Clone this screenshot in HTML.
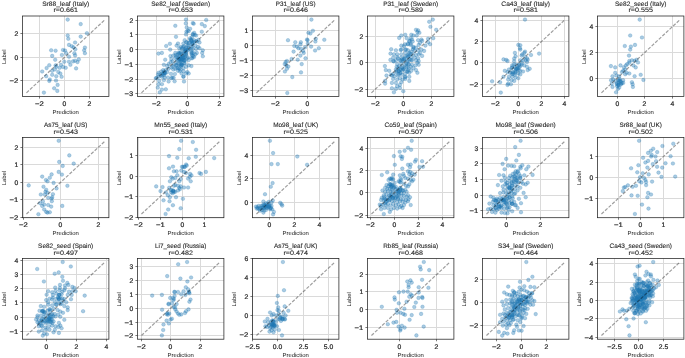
<!DOCTYPE html>
<html><head><meta charset="utf-8"><style>
html,body{margin:0;padding:0;background:#fff;}
svg{display:block;will-change:transform;}
text{font-family:"Liberation Sans",sans-serif;fill:#262626;text-rendering:geometricPrecision;stroke:#262626;stroke-width:0.1;}
.k{stroke-width:0.22;}
.l{stroke-width:0.02;}
.gr{stroke:#dadada;stroke-width:1;}
.sp{fill:none;stroke:#222;stroke-width:0.75;}
.tk{stroke:#222;stroke-width:0.6;}
.dg{stroke:#000;stroke-opacity:0.38;stroke-width:1.2;stroke-dasharray:3.4 1.5;}
circle{fill:#1f77b4;fill-opacity:0.38;stroke:#1f77b4;stroke-opacity:0.38;stroke-width:0.59;}
</style></head><body>
<svg width="685" height="358" viewBox="0 0 685 358">
<rect width="685" height="358" fill="#fff"/>
<line class="gr" x1="39.50" y1="16.00" x2="39.50" y2="96.50"/>
<line class="gr" x1="64.50" y1="16.00" x2="64.50" y2="96.50"/>
<line class="gr" x1="89.50" y1="16.00" x2="89.50" y2="96.50"/>
<line class="gr" x1="22.50" y1="80.50" x2="108.90" y2="80.50"/>
<line class="gr" x1="22.50" y1="57.50" x2="108.90" y2="57.50"/>
<line class="gr" x1="22.50" y1="33.50" x2="108.90" y2="33.50"/>
<circle cx="67.7" cy="19.6" r="1.8"/>
<circle cx="80.7" cy="24.1" r="1.8"/>
<circle cx="86.9" cy="33.2" r="1.8"/>
<circle cx="67.7" cy="35.5" r="1.8"/>
<circle cx="80.7" cy="36.6" r="1.8"/>
<circle cx="68.3" cy="38.8" r="1.8"/>
<circle cx="75.1" cy="42.5" r="1.8"/>
<circle cx="69.0" cy="44.9" r="1.8"/>
<circle cx="71.7" cy="46.2" r="1.8"/>
<circle cx="73.5" cy="47.3" r="1.8"/>
<circle cx="75.3" cy="49.2" r="1.8"/>
<circle cx="84.9" cy="47.6" r="1.8"/>
<circle cx="84.2" cy="50.3" r="1.8"/>
<circle cx="84.9" cy="53.2" r="1.8"/>
<circle cx="51.2" cy="50.3" r="1.8"/>
<circle cx="55.6" cy="50.7" r="1.8"/>
<circle cx="63.0" cy="50.0" r="1.8"/>
<circle cx="65.0" cy="50.5" r="1.8"/>
<circle cx="66.3" cy="53.2" r="1.8"/>
<circle cx="74.4" cy="53.2" r="1.8"/>
<circle cx="61.9" cy="55.0" r="1.8"/>
<circle cx="52.2" cy="55.9" r="1.8"/>
<circle cx="69.0" cy="56.7" r="1.8"/>
<circle cx="75.1" cy="55.4" r="1.8"/>
<circle cx="55.2" cy="59.8" r="1.8"/>
<circle cx="64.3" cy="61.7" r="1.8"/>
<circle cx="69.0" cy="61.7" r="1.8"/>
<circle cx="73.0" cy="61.4" r="1.8"/>
<circle cx="75.1" cy="60.7" r="1.8"/>
<circle cx="78.8" cy="59.4" r="1.8"/>
<circle cx="77.5" cy="62.1" r="1.8"/>
<circle cx="70.4" cy="64.8" r="1.8"/>
<circle cx="49.3" cy="65.2" r="1.8"/>
<circle cx="55.6" cy="65.4" r="1.8"/>
<circle cx="61.0" cy="64.8" r="1.8"/>
<circle cx="46.6" cy="68.1" r="1.8"/>
<circle cx="56.3" cy="66.8" r="1.8"/>
<circle cx="59.6" cy="67.8" r="1.8"/>
<circle cx="63.0" cy="67.0" r="1.8"/>
<circle cx="65.7" cy="67.8" r="1.8"/>
<circle cx="76.1" cy="68.4" r="1.8"/>
<circle cx="42.2" cy="71.5" r="1.8"/>
<circle cx="52.2" cy="70.8" r="1.8"/>
<circle cx="54.9" cy="69.5" r="1.8"/>
<circle cx="58.3" cy="72.1" r="1.8"/>
<circle cx="60.3" cy="73.5" r="1.8"/>
<circle cx="52.2" cy="74.8" r="1.8"/>
<circle cx="46.2" cy="76.2" r="1.8"/>
<circle cx="56.3" cy="76.2" r="1.8"/>
<circle cx="61.6" cy="76.8" r="1.8"/>
<circle cx="49.8" cy="79.5" r="1.8"/>
<circle cx="49.3" cy="80.9" r="1.8"/>
<circle cx="56.0" cy="80.5" r="1.8"/>
<circle cx="57.6" cy="84.9" r="1.8"/>
<circle cx="54.2" cy="88.3" r="1.8"/>
<circle cx="57.3" cy="90.9" r="1.8"/>
<circle cx="43.9" cy="92.6" r="1.8"/>
<line class="dg" x1="26.43" y1="92.84" x2="104.97" y2="19.66"/>
<rect class="sp" x="22.50" y="16.00" width="86.40" height="80.50"/>
<line class="tk" x1="39.50" y1="96.50" x2="39.50" y2="98.58"/>
<text x="39.50" y="106.00" font-size="6.70" text-anchor="middle" textLength="8.74" lengthAdjust="spacingAndGlyphs" class="k">−2</text>
<line class="tk" x1="64.50" y1="96.50" x2="64.50" y2="98.58"/>
<text x="64.50" y="106.00" font-size="6.70" text-anchor="middle" textLength="3.77" lengthAdjust="spacingAndGlyphs" class="k">0</text>
<line class="tk" x1="89.50" y1="96.50" x2="89.50" y2="98.58"/>
<text x="89.50" y="106.00" font-size="6.70" text-anchor="middle" textLength="3.77" lengthAdjust="spacingAndGlyphs" class="k">2</text>
<line class="tk" x1="20.42" y1="80.50" x2="22.50" y2="80.50"/>
<text x="18.34" y="83.10" font-size="6.70" text-anchor="end" textLength="8.74" lengthAdjust="spacingAndGlyphs" class="k">−2</text>
<line class="tk" x1="20.42" y1="57.50" x2="22.50" y2="57.50"/>
<text x="18.34" y="60.10" font-size="6.70" text-anchor="end" textLength="3.77" lengthAdjust="spacingAndGlyphs" class="k">0</text>
<line class="tk" x1="20.42" y1="33.50" x2="22.50" y2="33.50"/>
<text x="18.34" y="36.10" font-size="6.70" text-anchor="end" textLength="3.77" lengthAdjust="spacingAndGlyphs" class="k">2</text>
<text x="65.70" y="6.25" font-size="6.35" text-anchor="middle" textLength="47.11" lengthAdjust="spacingAndGlyphs">Sr88_leaf (Italy)</text>
<text x="65.70" y="12.45" font-size="6.35" text-anchor="middle" textLength="24.39" lengthAdjust="spacingAndGlyphs">r=0.661</text>
<text x="65.70" y="113.90" font-size="5.71" text-anchor="middle" textLength="26.50" lengthAdjust="spacingAndGlyphs" class="l">Prediction</text>
<text x="0.00" y="0.00" font-size="5.71" text-anchor="middle" textLength="14.41" lengthAdjust="spacingAndGlyphs" class="l" transform="translate(5.84 56.75) rotate(-90)">Label</text>
<line class="gr" x1="156.50" y1="16.00" x2="156.50" y2="96.50"/>
<line class="gr" x1="187.50" y1="16.00" x2="187.50" y2="96.50"/>
<line class="gr" x1="219.50" y1="16.00" x2="219.50" y2="96.50"/>
<line class="gr" x1="137.50" y1="93.50" x2="223.90" y2="93.50"/>
<line class="gr" x1="137.50" y1="79.50" x2="223.90" y2="79.50"/>
<line class="gr" x1="137.50" y1="64.50" x2="223.90" y2="64.50"/>
<line class="gr" x1="137.50" y1="49.50" x2="223.90" y2="49.50"/>
<line class="gr" x1="137.50" y1="34.50" x2="223.90" y2="34.50"/>
<line class="gr" x1="137.50" y1="20.50" x2="223.90" y2="20.50"/>
<circle cx="186.0" cy="19.6" r="1.8"/>
<circle cx="206.2" cy="20.0" r="1.8"/>
<circle cx="185.8" cy="23.4" r="1.8"/>
<circle cx="192.8" cy="23.1" r="1.8"/>
<circle cx="193.7" cy="23.7" r="1.8"/>
<circle cx="201.8" cy="24.1" r="1.8"/>
<circle cx="204.8" cy="26.1" r="1.8"/>
<circle cx="175.3" cy="25.8" r="1.8"/>
<circle cx="186.7" cy="27.4" r="1.8"/>
<circle cx="190.1" cy="28.8" r="1.8"/>
<circle cx="187.6" cy="30.8" r="1.8"/>
<circle cx="186.4" cy="31.7" r="1.8"/>
<circle cx="188.7" cy="31.2" r="1.8"/>
<circle cx="201.8" cy="31.7" r="1.8"/>
<circle cx="194.1" cy="32.8" r="1.8"/>
<circle cx="192.8" cy="34.1" r="1.8"/>
<circle cx="194.8" cy="34.8" r="1.8"/>
<circle cx="196.1" cy="35.5" r="1.8"/>
<circle cx="186.0" cy="34.4" r="1.8"/>
<circle cx="176.0" cy="36.8" r="1.8"/>
<circle cx="190.1" cy="38.2" r="1.8"/>
<circle cx="191.4" cy="39.5" r="1.8"/>
<circle cx="194.1" cy="40.2" r="1.8"/>
<circle cx="184.7" cy="40.2" r="1.8"/>
<circle cx="186.0" cy="42.2" r="1.8"/>
<circle cx="183.4" cy="43.5" r="1.8"/>
<circle cx="188.7" cy="42.9" r="1.8"/>
<circle cx="192.8" cy="42.9" r="1.8"/>
<circle cx="196.8" cy="41.5" r="1.8"/>
<circle cx="199.5" cy="42.5" r="1.8"/>
<circle cx="178.0" cy="43.5" r="1.8"/>
<circle cx="169.9" cy="43.8" r="1.8"/>
<circle cx="166.2" cy="46.0" r="1.8"/>
<circle cx="176.6" cy="45.6" r="1.8"/>
<circle cx="180.7" cy="46.9" r="1.8"/>
<circle cx="184.0" cy="46.2" r="1.8"/>
<circle cx="187.4" cy="45.6" r="1.8"/>
<circle cx="191.4" cy="46.2" r="1.8"/>
<circle cx="195.4" cy="45.6" r="1.8"/>
<circle cx="198.1" cy="46.9" r="1.8"/>
<circle cx="170.2" cy="49.6" r="1.8"/>
<circle cx="179.3" cy="48.2" r="1.8"/>
<circle cx="182.0" cy="49.2" r="1.8"/>
<circle cx="185.4" cy="48.7" r="1.8"/>
<circle cx="188.7" cy="48.2" r="1.8"/>
<circle cx="192.8" cy="49.2" r="1.8"/>
<circle cx="196.1" cy="48.9" r="1.8"/>
<circle cx="199.5" cy="48.2" r="1.8"/>
<circle cx="202.8" cy="50.3" r="1.8"/>
<circle cx="158.5" cy="53.6" r="1.8"/>
<circle cx="161.9" cy="52.9" r="1.8"/>
<circle cx="175.3" cy="52.9" r="1.8"/>
<circle cx="180.7" cy="52.3" r="1.8"/>
<circle cx="184.7" cy="51.6" r="1.8"/>
<circle cx="191.4" cy="52.3" r="1.8"/>
<circle cx="193.4" cy="52.9" r="1.8"/>
<circle cx="196.8" cy="52.9" r="1.8"/>
<circle cx="202.2" cy="52.9" r="1.8"/>
<circle cx="173.3" cy="55.6" r="1.8"/>
<circle cx="177.3" cy="55.0" r="1.8"/>
<circle cx="182.0" cy="54.3" r="1.8"/>
<circle cx="186.0" cy="54.3" r="1.8"/>
<circle cx="192.1" cy="55.6" r="1.8"/>
<circle cx="195.4" cy="54.3" r="1.8"/>
<circle cx="202.8" cy="56.3" r="1.8"/>
<circle cx="165.2" cy="59.7" r="1.8"/>
<circle cx="171.3" cy="59.0" r="1.8"/>
<circle cx="175.3" cy="58.3" r="1.8"/>
<circle cx="179.3" cy="58.3" r="1.8"/>
<circle cx="183.4" cy="57.6" r="1.8"/>
<circle cx="187.4" cy="58.3" r="1.8"/>
<circle cx="191.4" cy="58.3" r="1.8"/>
<circle cx="194.1" cy="57.0" r="1.8"/>
<circle cx="179.3" cy="53.3" r="1.8"/>
<circle cx="191.4" cy="54.0" r="1.8"/>
<circle cx="188.7" cy="60.1" r="1.8"/>
<circle cx="183.4" cy="60.1" r="1.8"/>
<circle cx="172.6" cy="61.4" r="1.8"/>
<circle cx="170.6" cy="62.1" r="1.8"/>
<circle cx="168.6" cy="64.1" r="1.8"/>
<circle cx="163.9" cy="64.8" r="1.8"/>
<circle cx="167.2" cy="66.1" r="1.8"/>
<circle cx="173.9" cy="64.8" r="1.8"/>
<circle cx="176.6" cy="65.4" r="1.8"/>
<circle cx="179.3" cy="64.1" r="1.8"/>
<circle cx="182.0" cy="64.8" r="1.8"/>
<circle cx="184.7" cy="63.4" r="1.8"/>
<circle cx="188.7" cy="65.4" r="1.8"/>
<circle cx="191.4" cy="66.1" r="1.8"/>
<circle cx="186.0" cy="66.8" r="1.8"/>
<circle cx="183.4" cy="68.1" r="1.8"/>
<circle cx="180.7" cy="69.5" r="1.8"/>
<circle cx="178.0" cy="70.8" r="1.8"/>
<circle cx="175.3" cy="68.8" r="1.8"/>
<circle cx="173.3" cy="69.5" r="1.8"/>
<circle cx="171.3" cy="67.4" r="1.8"/>
<circle cx="168.6" cy="68.8" r="1.8"/>
<circle cx="165.9" cy="70.1" r="1.8"/>
<circle cx="163.2" cy="70.1" r="1.8"/>
<circle cx="161.2" cy="71.5" r="1.8"/>
<circle cx="158.5" cy="72.8" r="1.8"/>
<circle cx="161.9" cy="73.5" r="1.8"/>
<circle cx="165.2" cy="73.5" r="1.8"/>
<circle cx="167.2" cy="72.1" r="1.8"/>
<circle cx="187.4" cy="72.1" r="1.8"/>
<circle cx="188.7" cy="73.5" r="1.8"/>
<circle cx="186.0" cy="73.5" r="1.8"/>
<circle cx="183.4" cy="76.8" r="1.8"/>
<circle cx="184.0" cy="81.5" r="1.8"/>
<circle cx="158.5" cy="76.8" r="1.8"/>
<circle cx="161.9" cy="76.8" r="1.8"/>
<circle cx="164.5" cy="77.5" r="1.8"/>
<circle cx="167.9" cy="77.5" r="1.8"/>
<circle cx="171.3" cy="78.2" r="1.8"/>
<circle cx="155.8" cy="78.2" r="1.8"/>
<circle cx="159.2" cy="80.9" r="1.8"/>
<circle cx="163.9" cy="80.2" r="1.8"/>
<circle cx="168.6" cy="81.5" r="1.8"/>
<circle cx="174.6" cy="81.3" r="1.8"/>
<circle cx="158.5" cy="84.2" r="1.8"/>
<circle cx="161.9" cy="84.2" r="1.8"/>
<circle cx="157.8" cy="87.6" r="1.8"/>
<circle cx="161.9" cy="89.6" r="1.8"/>
<circle cx="159.8" cy="92.3" r="1.8"/>
<circle cx="192.9" cy="34.7" r="1.8"/>
<circle cx="186.4" cy="53.7" r="1.8"/>
<circle cx="183.2" cy="46.9" r="1.8"/>
<circle cx="179.4" cy="59.4" r="1.8"/>
<circle cx="175.9" cy="65.1" r="1.8"/>
<circle cx="180.6" cy="61.1" r="1.8"/>
<circle cx="181.1" cy="65.9" r="1.8"/>
<circle cx="170.4" cy="56.1" r="1.8"/>
<circle cx="188.4" cy="45.6" r="1.8"/>
<circle cx="181.4" cy="64.2" r="1.8"/>
<circle cx="185.3" cy="55.0" r="1.8"/>
<circle cx="180.6" cy="65.0" r="1.8"/>
<circle cx="181.6" cy="73.5" r="1.8"/>
<circle cx="177.2" cy="68.0" r="1.8"/>
<circle cx="184.8" cy="57.2" r="1.8"/>
<circle cx="184.5" cy="60.1" r="1.8"/>
<circle cx="165.8" cy="89.3" r="1.8"/>
<circle cx="180.7" cy="58.6" r="1.8"/>
<circle cx="186.9" cy="42.4" r="1.8"/>
<circle cx="175.5" cy="55.0" r="1.8"/>
<circle cx="178.6" cy="52.5" r="1.8"/>
<circle cx="183.5" cy="76.5" r="1.8"/>
<circle cx="186.3" cy="51.6" r="1.8"/>
<circle cx="178.7" cy="53.7" r="1.8"/>
<circle cx="179.3" cy="68.3" r="1.8"/>
<circle cx="173.6" cy="77.7" r="1.8"/>
<circle cx="174.9" cy="74.0" r="1.8"/>
<circle cx="183.6" cy="71.3" r="1.8"/>
<circle cx="186.0" cy="47.7" r="1.8"/>
<circle cx="171.0" cy="73.8" r="1.8"/>
<circle cx="179.2" cy="56.6" r="1.8"/>
<circle cx="187.8" cy="57.2" r="1.8"/>
<circle cx="181.1" cy="57.6" r="1.8"/>
<circle cx="185.7" cy="50.3" r="1.8"/>
<circle cx="185.9" cy="49.6" r="1.8"/>
<circle cx="189.8" cy="42.6" r="1.8"/>
<circle cx="178.1" cy="67.8" r="1.8"/>
<circle cx="176.6" cy="62.0" r="1.8"/>
<circle cx="184.9" cy="60.5" r="1.8"/>
<circle cx="172.3" cy="77.6" r="1.8"/>
<circle cx="181.7" cy="59.0" r="1.8"/>
<circle cx="182.3" cy="48.1" r="1.8"/>
<circle cx="185.4" cy="51.4" r="1.8"/>
<circle cx="182.7" cy="56.5" r="1.8"/>
<circle cx="179.6" cy="59.9" r="1.8"/>
<circle cx="192.4" cy="58.0" r="1.8"/>
<circle cx="191.2" cy="49.8" r="1.8"/>
<circle cx="184.1" cy="51.8" r="1.8"/>
<circle cx="193.3" cy="56.1" r="1.8"/>
<circle cx="179.8" cy="71.0" r="1.8"/>
<circle cx="189.1" cy="49.0" r="1.8"/>
<circle cx="191.9" cy="53.1" r="1.8"/>
<circle cx="198.6" cy="39.8" r="1.8"/>
<circle cx="192.5" cy="43.1" r="1.8"/>
<circle cx="188.0" cy="50.3" r="1.8"/>
<circle cx="164.2" cy="73.5" r="1.8"/>
<circle cx="172.8" cy="66.5" r="1.8"/>
<circle cx="164.1" cy="75.1" r="1.8"/>
<circle cx="160.7" cy="75.4" r="1.8"/>
<circle cx="163.8" cy="73.0" r="1.8"/>
<circle cx="164.9" cy="72.6" r="1.8"/>
<circle cx="156.5" cy="78.0" r="1.8"/>
<circle cx="158.1" cy="74.6" r="1.8"/>
<circle cx="162.4" cy="74.8" r="1.8"/>
<circle cx="164.3" cy="71.4" r="1.8"/>
<circle cx="192.2" cy="37.0" r="1.8"/>
<circle cx="191.8" cy="41.0" r="1.8"/>
<circle cx="192.5" cy="46.8" r="1.8"/>
<circle cx="191.3" cy="40.6" r="1.8"/>
<circle cx="196.2" cy="41.0" r="1.8"/>
<circle cx="193.9" cy="42.1" r="1.8"/>
<circle cx="190.3" cy="39.6" r="1.8"/>
<circle cx="192.0" cy="43.8" r="1.8"/>
<circle cx="177.6" cy="59.9" r="1.8"/>
<circle cx="178.2" cy="58.3" r="1.8"/>
<circle cx="180.5" cy="53.3" r="1.8"/>
<circle cx="180.8" cy="61.1" r="1.8"/>
<circle cx="183.8" cy="63.3" r="1.8"/>
<circle cx="181.7" cy="59.8" r="1.8"/>
<circle cx="176.4" cy="56.9" r="1.8"/>
<circle cx="181.4" cy="60.4" r="1.8"/>
<circle cx="184.3" cy="60.7" r="1.8"/>
<circle cx="181.7" cy="65.3" r="1.8"/>
<circle cx="177.9" cy="63.6" r="1.8"/>
<circle cx="184.4" cy="57.1" r="1.8"/>
<circle cx="183.2" cy="57.8" r="1.8"/>
<circle cx="184.6" cy="53.7" r="1.8"/>
<circle cx="181.8" cy="55.7" r="1.8"/>
<line class="dg" x1="141.43" y1="92.84" x2="219.97" y2="19.66"/>
<rect class="sp" x="137.50" y="16.00" width="86.40" height="80.50"/>
<line class="tk" x1="156.50" y1="96.50" x2="156.50" y2="98.58"/>
<text x="156.50" y="106.00" font-size="6.70" text-anchor="middle" textLength="8.74" lengthAdjust="spacingAndGlyphs" class="k">−2</text>
<line class="tk" x1="187.50" y1="96.50" x2="187.50" y2="98.58"/>
<text x="187.50" y="106.00" font-size="6.70" text-anchor="middle" textLength="3.77" lengthAdjust="spacingAndGlyphs" class="k">0</text>
<line class="tk" x1="219.50" y1="96.50" x2="219.50" y2="98.58"/>
<text x="219.50" y="106.00" font-size="6.70" text-anchor="middle" textLength="3.77" lengthAdjust="spacingAndGlyphs" class="k">2</text>
<line class="tk" x1="135.42" y1="93.50" x2="137.50" y2="93.50"/>
<text x="133.34" y="96.10" font-size="6.70" text-anchor="end" textLength="8.74" lengthAdjust="spacingAndGlyphs" class="k">−3</text>
<line class="tk" x1="135.42" y1="79.50" x2="137.50" y2="79.50"/>
<text x="133.34" y="82.10" font-size="6.70" text-anchor="end" textLength="8.74" lengthAdjust="spacingAndGlyphs" class="k">−2</text>
<line class="tk" x1="135.42" y1="64.50" x2="137.50" y2="64.50"/>
<text x="133.34" y="67.10" font-size="6.70" text-anchor="end" textLength="8.74" lengthAdjust="spacingAndGlyphs" class="k">−1</text>
<line class="tk" x1="135.42" y1="49.50" x2="137.50" y2="49.50"/>
<text x="133.34" y="52.10" font-size="6.70" text-anchor="end" textLength="3.77" lengthAdjust="spacingAndGlyphs" class="k">0</text>
<line class="tk" x1="135.42" y1="34.50" x2="137.50" y2="34.50"/>
<text x="133.34" y="37.10" font-size="6.70" text-anchor="end" textLength="3.77" lengthAdjust="spacingAndGlyphs" class="k">1</text>
<line class="tk" x1="135.42" y1="20.50" x2="137.50" y2="20.50"/>
<text x="133.34" y="23.10" font-size="6.70" text-anchor="end" textLength="3.77" lengthAdjust="spacingAndGlyphs" class="k">2</text>
<text x="180.70" y="6.25" font-size="6.35" text-anchor="middle" textLength="58.88" lengthAdjust="spacingAndGlyphs">Se82_leaf (Sweden)</text>
<text x="180.70" y="12.45" font-size="6.35" text-anchor="middle" textLength="24.39" lengthAdjust="spacingAndGlyphs">r=0.653</text>
<text x="180.70" y="113.90" font-size="5.71" text-anchor="middle" textLength="26.50" lengthAdjust="spacingAndGlyphs" class="l">Prediction</text>
<text x="0.00" y="0.00" font-size="5.71" text-anchor="middle" textLength="14.41" lengthAdjust="spacingAndGlyphs" class="l" transform="translate(120.84 56.75) rotate(-90)">Label</text>
<line class="gr" x1="275.50" y1="16.00" x2="275.50" y2="96.50"/>
<line class="gr" x1="307.50" y1="16.00" x2="307.50" y2="96.50"/>
<line class="gr" x1="252.50" y1="90.50" x2="338.90" y2="90.50"/>
<line class="gr" x1="252.50" y1="75.50" x2="338.90" y2="75.50"/>
<line class="gr" x1="252.50" y1="60.50" x2="338.90" y2="60.50"/>
<line class="gr" x1="252.50" y1="45.50" x2="338.90" y2="45.50"/>
<line class="gr" x1="252.50" y1="30.50" x2="338.90" y2="30.50"/>
<circle cx="311.4" cy="19.6" r="1.8"/>
<circle cx="312.9" cy="30.8" r="1.8"/>
<circle cx="308.4" cy="32.8" r="1.8"/>
<circle cx="310.4" cy="33.5" r="1.8"/>
<circle cx="307.1" cy="39.5" r="1.8"/>
<circle cx="307.5" cy="40.2" r="1.8"/>
<circle cx="315.8" cy="38.8" r="1.8"/>
<circle cx="315.4" cy="41.5" r="1.8"/>
<circle cx="324.3" cy="39.8" r="1.8"/>
<circle cx="288.0" cy="40.2" r="1.8"/>
<circle cx="295.3" cy="42.2" r="1.8"/>
<circle cx="300.8" cy="42.2" r="1.8"/>
<circle cx="300.4" cy="44.2" r="1.8"/>
<circle cx="294.3" cy="46.0" r="1.8"/>
<circle cx="297.0" cy="46.6" r="1.8"/>
<circle cx="298.4" cy="48.2" r="1.8"/>
<circle cx="301.0" cy="48.7" r="1.8"/>
<circle cx="305.1" cy="47.3" r="1.8"/>
<circle cx="311.1" cy="46.6" r="1.8"/>
<circle cx="307.8" cy="43.5" r="1.8"/>
<circle cx="293.6" cy="51.6" r="1.8"/>
<circle cx="300.4" cy="55.6" r="1.8"/>
<circle cx="303.7" cy="52.9" r="1.8"/>
<circle cx="303.1" cy="50.9" r="1.8"/>
<circle cx="315.1" cy="50.5" r="1.8"/>
<circle cx="318.8" cy="48.2" r="1.8"/>
<circle cx="305.5" cy="58.3" r="1.8"/>
<circle cx="297.7" cy="59.7" r="1.8"/>
<circle cx="291.6" cy="59.0" r="1.8"/>
<circle cx="286.9" cy="61.0" r="1.8"/>
<circle cx="285.6" cy="62.1" r="1.8"/>
<circle cx="284.7" cy="64.1" r="1.8"/>
<circle cx="286.3" cy="65.4" r="1.8"/>
<circle cx="288.3" cy="66.5" r="1.8"/>
<circle cx="286.9" cy="68.8" r="1.8"/>
<circle cx="284.9" cy="71.5" r="1.8"/>
<circle cx="301.7" cy="64.1" r="1.8"/>
<circle cx="301.0" cy="72.4" r="1.8"/>
<circle cx="292.3" cy="77.1" r="1.8"/>
<circle cx="287.3" cy="93.0" r="1.8"/>
<line class="dg" x1="256.43" y1="92.84" x2="334.97" y2="19.66"/>
<rect class="sp" x="252.50" y="16.00" width="86.40" height="80.50"/>
<line class="tk" x1="275.50" y1="96.50" x2="275.50" y2="98.58"/>
<text x="275.50" y="106.00" font-size="6.70" text-anchor="middle" textLength="8.74" lengthAdjust="spacingAndGlyphs" class="k">−2</text>
<line class="tk" x1="307.50" y1="96.50" x2="307.50" y2="98.58"/>
<text x="307.50" y="106.00" font-size="6.70" text-anchor="middle" textLength="3.77" lengthAdjust="spacingAndGlyphs" class="k">0</text>
<line class="tk" x1="250.42" y1="90.50" x2="252.50" y2="90.50"/>
<text x="248.34" y="93.10" font-size="6.70" text-anchor="end" textLength="8.74" lengthAdjust="spacingAndGlyphs" class="k">−3</text>
<line class="tk" x1="250.42" y1="75.50" x2="252.50" y2="75.50"/>
<text x="248.34" y="78.10" font-size="6.70" text-anchor="end" textLength="8.74" lengthAdjust="spacingAndGlyphs" class="k">−2</text>
<line class="tk" x1="250.42" y1="60.50" x2="252.50" y2="60.50"/>
<text x="248.34" y="63.10" font-size="6.70" text-anchor="end" textLength="8.74" lengthAdjust="spacingAndGlyphs" class="k">−1</text>
<line class="tk" x1="250.42" y1="45.50" x2="252.50" y2="45.50"/>
<text x="248.34" y="48.10" font-size="6.70" text-anchor="end" textLength="3.77" lengthAdjust="spacingAndGlyphs" class="k">0</text>
<line class="tk" x1="250.42" y1="30.50" x2="252.50" y2="30.50"/>
<text x="248.34" y="33.10" font-size="6.70" text-anchor="end" textLength="3.77" lengthAdjust="spacingAndGlyphs" class="k">1</text>
<text x="295.70" y="6.25" font-size="6.35" text-anchor="middle" textLength="39.72" lengthAdjust="spacingAndGlyphs">P31_leaf (US)</text>
<text x="295.70" y="12.45" font-size="6.35" text-anchor="middle" textLength="24.39" lengthAdjust="spacingAndGlyphs">r=0.646</text>
<text x="295.70" y="113.90" font-size="5.71" text-anchor="middle" textLength="26.50" lengthAdjust="spacingAndGlyphs" class="l">Prediction</text>
<text x="0.00" y="0.00" font-size="5.71" text-anchor="middle" textLength="14.41" lengthAdjust="spacingAndGlyphs" class="l" transform="translate(235.84 56.75) rotate(-90)">Label</text>
<line class="gr" x1="375.50" y1="16.00" x2="375.50" y2="96.50"/>
<line class="gr" x1="403.50" y1="16.00" x2="403.50" y2="96.50"/>
<line class="gr" x1="431.50" y1="16.00" x2="431.50" y2="96.50"/>
<line class="gr" x1="367.50" y1="89.50" x2="453.90" y2="89.50"/>
<line class="gr" x1="367.50" y1="62.50" x2="453.90" y2="62.50"/>
<line class="gr" x1="367.50" y1="36.50" x2="453.90" y2="36.50"/>
<circle cx="432.8" cy="19.6" r="1.8"/>
<circle cx="429.2" cy="21.8" r="1.8"/>
<circle cx="430.4" cy="26.8" r="1.8"/>
<circle cx="436.2" cy="29.8" r="1.8"/>
<circle cx="416.0" cy="29.8" r="1.8"/>
<circle cx="418.1" cy="30.4" r="1.8"/>
<circle cx="419.4" cy="32.8" r="1.8"/>
<circle cx="417.4" cy="32.1" r="1.8"/>
<circle cx="401.3" cy="35.5" r="1.8"/>
<circle cx="405.3" cy="34.8" r="1.8"/>
<circle cx="399.2" cy="37.9" r="1.8"/>
<circle cx="411.3" cy="34.8" r="1.8"/>
<circle cx="413.4" cy="35.5" r="1.8"/>
<circle cx="416.7" cy="35.5" r="1.8"/>
<circle cx="410.7" cy="38.2" r="1.8"/>
<circle cx="412.0" cy="39.5" r="1.8"/>
<circle cx="409.3" cy="40.9" r="1.8"/>
<circle cx="412.7" cy="41.5" r="1.8"/>
<circle cx="418.1" cy="40.2" r="1.8"/>
<circle cx="421.4" cy="39.5" r="1.8"/>
<circle cx="422.1" cy="40.9" r="1.8"/>
<circle cx="428.1" cy="38.8" r="1.8"/>
<circle cx="433.2" cy="38.2" r="1.8"/>
<circle cx="430.1" cy="44.2" r="1.8"/>
<circle cx="428.1" cy="42.2" r="1.8"/>
<circle cx="425.4" cy="45.6" r="1.8"/>
<circle cx="418.7" cy="44.9" r="1.8"/>
<circle cx="420.1" cy="42.9" r="1.8"/>
<circle cx="401.3" cy="45.6" r="1.8"/>
<circle cx="403.9" cy="46.2" r="1.8"/>
<circle cx="408.0" cy="44.2" r="1.8"/>
<circle cx="410.7" cy="44.9" r="1.8"/>
<circle cx="413.4" cy="46.9" r="1.8"/>
<circle cx="416.0" cy="47.6" r="1.8"/>
<circle cx="391.2" cy="49.2" r="1.8"/>
<circle cx="395.9" cy="50.3" r="1.8"/>
<circle cx="401.3" cy="49.6" r="1.8"/>
<circle cx="405.3" cy="49.6" r="1.8"/>
<circle cx="408.0" cy="50.3" r="1.8"/>
<circle cx="411.3" cy="51.6" r="1.8"/>
<circle cx="414.7" cy="50.9" r="1.8"/>
<circle cx="418.1" cy="50.3" r="1.8"/>
<circle cx="421.4" cy="49.6" r="1.8"/>
<circle cx="424.1" cy="50.9" r="1.8"/>
<circle cx="420.1" cy="52.9" r="1.8"/>
<circle cx="390.5" cy="53.6" r="1.8"/>
<circle cx="393.9" cy="54.3" r="1.8"/>
<circle cx="397.2" cy="54.3" r="1.8"/>
<circle cx="401.3" cy="54.3" r="1.8"/>
<circle cx="405.3" cy="52.9" r="1.8"/>
<circle cx="409.3" cy="52.9" r="1.8"/>
<circle cx="412.7" cy="54.3" r="1.8"/>
<circle cx="416.0" cy="55.0" r="1.8"/>
<circle cx="418.7" cy="54.3" r="1.8"/>
<circle cx="422.1" cy="55.9" r="1.8"/>
<circle cx="393.2" cy="57.6" r="1.8"/>
<circle cx="397.2" cy="57.0" r="1.8"/>
<circle cx="401.3" cy="57.6" r="1.8"/>
<circle cx="405.3" cy="56.3" r="1.8"/>
<circle cx="408.0" cy="57.0" r="1.8"/>
<circle cx="411.3" cy="57.0" r="1.8"/>
<circle cx="414.7" cy="57.6" r="1.8"/>
<circle cx="418.1" cy="58.3" r="1.8"/>
<circle cx="395.9" cy="60.3" r="1.8"/>
<circle cx="399.9" cy="60.3" r="1.8"/>
<circle cx="403.9" cy="59.7" r="1.8"/>
<circle cx="408.0" cy="60.3" r="1.8"/>
<circle cx="412.0" cy="60.3" r="1.8"/>
<circle cx="416.0" cy="60.3" r="1.8"/>
<circle cx="418.7" cy="61.0" r="1.8"/>
<circle cx="393.9" cy="61.4" r="1.8"/>
<circle cx="397.2" cy="64.1" r="1.8"/>
<circle cx="401.3" cy="63.4" r="1.8"/>
<circle cx="405.3" cy="64.8" r="1.8"/>
<circle cx="408.6" cy="64.1" r="1.8"/>
<circle cx="412.0" cy="64.8" r="1.8"/>
<circle cx="415.4" cy="65.4" r="1.8"/>
<circle cx="418.7" cy="64.8" r="1.8"/>
<circle cx="384.9" cy="66.1" r="1.8"/>
<circle cx="396.6" cy="66.8" r="1.8"/>
<circle cx="399.2" cy="66.1" r="1.8"/>
<circle cx="402.6" cy="66.8" r="1.8"/>
<circle cx="406.6" cy="67.4" r="1.8"/>
<circle cx="410.7" cy="66.8" r="1.8"/>
<circle cx="413.4" cy="68.1" r="1.8"/>
<circle cx="385.8" cy="70.1" r="1.8"/>
<circle cx="389.2" cy="70.8" r="1.8"/>
<circle cx="395.9" cy="69.5" r="1.8"/>
<circle cx="399.9" cy="69.5" r="1.8"/>
<circle cx="403.9" cy="69.5" r="1.8"/>
<circle cx="408.0" cy="70.1" r="1.8"/>
<circle cx="411.3" cy="70.8" r="1.8"/>
<circle cx="416.0" cy="70.1" r="1.8"/>
<circle cx="417.4" cy="72.8" r="1.8"/>
<circle cx="396.6" cy="72.1" r="1.8"/>
<circle cx="400.6" cy="72.8" r="1.8"/>
<circle cx="405.3" cy="73.5" r="1.8"/>
<circle cx="409.3" cy="72.8" r="1.8"/>
<circle cx="386.5" cy="75.5" r="1.8"/>
<circle cx="391.9" cy="75.5" r="1.8"/>
<circle cx="394.5" cy="76.2" r="1.8"/>
<circle cx="397.9" cy="75.5" r="1.8"/>
<circle cx="401.9" cy="74.8" r="1.8"/>
<circle cx="405.3" cy="76.8" r="1.8"/>
<circle cx="409.3" cy="76.8" r="1.8"/>
<circle cx="393.2" cy="78.9" r="1.8"/>
<circle cx="397.2" cy="79.5" r="1.8"/>
<circle cx="399.9" cy="78.2" r="1.8"/>
<circle cx="402.6" cy="79.5" r="1.8"/>
<circle cx="405.3" cy="78.9" r="1.8"/>
<circle cx="409.3" cy="80.9" r="1.8"/>
<circle cx="385.1" cy="80.9" r="1.8"/>
<circle cx="385.1" cy="83.6" r="1.8"/>
<circle cx="391.9" cy="82.9" r="1.8"/>
<circle cx="395.9" cy="82.9" r="1.8"/>
<circle cx="401.3" cy="82.2" r="1.8"/>
<circle cx="399.9" cy="84.9" r="1.8"/>
<circle cx="397.2" cy="86.2" r="1.8"/>
<circle cx="391.9" cy="88.3" r="1.8"/>
<circle cx="395.9" cy="88.9" r="1.8"/>
<circle cx="393.9" cy="92.3" r="1.8"/>
<circle cx="403.3" cy="91.2" r="1.8"/>
<circle cx="406.5" cy="63.6" r="1.8"/>
<circle cx="403.4" cy="68.8" r="1.8"/>
<circle cx="410.7" cy="53.9" r="1.8"/>
<circle cx="407.6" cy="44.0" r="1.8"/>
<circle cx="400.9" cy="60.7" r="1.8"/>
<circle cx="399.1" cy="71.1" r="1.8"/>
<circle cx="407.2" cy="61.5" r="1.8"/>
<circle cx="417.5" cy="62.6" r="1.8"/>
<circle cx="400.6" cy="50.0" r="1.8"/>
<circle cx="402.0" cy="59.4" r="1.8"/>
<circle cx="407.8" cy="71.6" r="1.8"/>
<circle cx="393.3" cy="61.0" r="1.8"/>
<circle cx="404.1" cy="59.0" r="1.8"/>
<circle cx="393.5" cy="73.7" r="1.8"/>
<circle cx="400.7" cy="69.7" r="1.8"/>
<circle cx="402.2" cy="67.8" r="1.8"/>
<circle cx="409.4" cy="41.2" r="1.8"/>
<circle cx="398.7" cy="71.2" r="1.8"/>
<circle cx="406.1" cy="49.5" r="1.8"/>
<circle cx="404.9" cy="44.4" r="1.8"/>
<circle cx="398.5" cy="74.1" r="1.8"/>
<circle cx="396.6" cy="71.0" r="1.8"/>
<circle cx="409.8" cy="59.7" r="1.8"/>
<circle cx="403.2" cy="61.1" r="1.8"/>
<circle cx="412.8" cy="49.3" r="1.8"/>
<circle cx="408.8" cy="68.3" r="1.8"/>
<circle cx="400.2" cy="73.2" r="1.8"/>
<circle cx="407.3" cy="55.8" r="1.8"/>
<circle cx="402.8" cy="70.0" r="1.8"/>
<circle cx="398.3" cy="67.5" r="1.8"/>
<circle cx="405.2" cy="77.1" r="1.8"/>
<circle cx="406.9" cy="71.6" r="1.8"/>
<circle cx="404.7" cy="58.3" r="1.8"/>
<circle cx="408.7" cy="56.4" r="1.8"/>
<circle cx="397.9" cy="58.4" r="1.8"/>
<circle cx="408.7" cy="64.3" r="1.8"/>
<circle cx="411.3" cy="60.0" r="1.8"/>
<circle cx="413.6" cy="47.7" r="1.8"/>
<circle cx="406.6" cy="38.1" r="1.8"/>
<circle cx="390.4" cy="59.9" r="1.8"/>
<circle cx="408.6" cy="54.3" r="1.8"/>
<circle cx="410.8" cy="43.8" r="1.8"/>
<circle cx="400.0" cy="88.0" r="1.8"/>
<circle cx="391.0" cy="74.7" r="1.8"/>
<circle cx="406.2" cy="66.3" r="1.8"/>
<line class="dg" x1="371.43" y1="92.84" x2="449.97" y2="19.66"/>
<rect class="sp" x="367.50" y="16.00" width="86.40" height="80.50"/>
<line class="tk" x1="375.50" y1="96.50" x2="375.50" y2="98.58"/>
<text x="375.50" y="106.00" font-size="6.70" text-anchor="middle" textLength="8.74" lengthAdjust="spacingAndGlyphs" class="k">−2</text>
<line class="tk" x1="403.50" y1="96.50" x2="403.50" y2="98.58"/>
<text x="403.50" y="106.00" font-size="6.70" text-anchor="middle" textLength="3.77" lengthAdjust="spacingAndGlyphs" class="k">0</text>
<line class="tk" x1="431.50" y1="96.50" x2="431.50" y2="98.58"/>
<text x="431.50" y="106.00" font-size="6.70" text-anchor="middle" textLength="3.77" lengthAdjust="spacingAndGlyphs" class="k">2</text>
<line class="tk" x1="365.42" y1="89.50" x2="367.50" y2="89.50"/>
<text x="363.34" y="92.10" font-size="6.70" text-anchor="end" textLength="8.74" lengthAdjust="spacingAndGlyphs" class="k">−2</text>
<line class="tk" x1="365.42" y1="62.50" x2="367.50" y2="62.50"/>
<text x="363.34" y="65.10" font-size="6.70" text-anchor="end" textLength="3.77" lengthAdjust="spacingAndGlyphs" class="k">0</text>
<line class="tk" x1="365.42" y1="36.50" x2="367.50" y2="36.50"/>
<text x="363.34" y="39.10" font-size="6.70" text-anchor="end" textLength="3.77" lengthAdjust="spacingAndGlyphs" class="k">2</text>
<text x="410.70" y="6.25" font-size="6.35" text-anchor="middle" textLength="55.04" lengthAdjust="spacingAndGlyphs">P31_leaf (Sweden)</text>
<text x="410.70" y="12.45" font-size="6.35" text-anchor="middle" textLength="24.39" lengthAdjust="spacingAndGlyphs">r=0.589</text>
<text x="410.70" y="113.90" font-size="5.71" text-anchor="middle" textLength="26.50" lengthAdjust="spacingAndGlyphs" class="l">Prediction</text>
<text x="0.00" y="0.00" font-size="5.71" text-anchor="middle" textLength="14.41" lengthAdjust="spacingAndGlyphs" class="l" transform="translate(350.84 56.75) rotate(-90)">Label</text>
<line class="gr" x1="495.50" y1="16.00" x2="495.50" y2="96.50"/>
<line class="gr" x1="518.50" y1="16.00" x2="518.50" y2="96.50"/>
<line class="gr" x1="541.50" y1="16.00" x2="541.50" y2="96.50"/>
<line class="gr" x1="564.50" y1="16.00" x2="564.50" y2="96.50"/>
<line class="gr" x1="482.50" y1="84.50" x2="568.90" y2="84.50"/>
<line class="gr" x1="482.50" y1="62.50" x2="568.90" y2="62.50"/>
<line class="gr" x1="482.50" y1="41.50" x2="568.90" y2="41.50"/>
<line class="gr" x1="482.50" y1="20.50" x2="568.90" y2="20.50"/>
<circle cx="525.0" cy="19.6" r="1.8"/>
<circle cx="518.3" cy="44.9" r="1.8"/>
<circle cx="520.3" cy="45.2" r="1.8"/>
<circle cx="520.0" cy="48.2" r="1.8"/>
<circle cx="520.3" cy="49.6" r="1.8"/>
<circle cx="514.9" cy="52.9" r="1.8"/>
<circle cx="525.0" cy="51.6" r="1.8"/>
<circle cx="524.3" cy="52.9" r="1.8"/>
<circle cx="522.3" cy="54.3" r="1.8"/>
<circle cx="521.6" cy="55.6" r="1.8"/>
<circle cx="525.0" cy="57.0" r="1.8"/>
<circle cx="527.0" cy="58.3" r="1.8"/>
<circle cx="531.0" cy="55.0" r="1.8"/>
<circle cx="539.1" cy="53.6" r="1.8"/>
<circle cx="515.6" cy="56.3" r="1.8"/>
<circle cx="514.2" cy="58.6" r="1.8"/>
<circle cx="503.5" cy="59.4" r="1.8"/>
<circle cx="506.2" cy="59.9" r="1.8"/>
<circle cx="507.5" cy="61.0" r="1.8"/>
<circle cx="514.2" cy="61.3" r="1.8"/>
<circle cx="520.3" cy="60.3" r="1.8"/>
<circle cx="523.0" cy="60.3" r="1.8"/>
<circle cx="525.7" cy="60.3" r="1.8"/>
<circle cx="527.7" cy="59.7" r="1.8"/>
<circle cx="527.0" cy="62.1" r="1.8"/>
<circle cx="516.3" cy="64.8" r="1.8"/>
<circle cx="512.2" cy="65.4" r="1.8"/>
<circle cx="518.9" cy="65.4" r="1.8"/>
<circle cx="521.6" cy="64.8" r="1.8"/>
<circle cx="524.3" cy="65.4" r="1.8"/>
<circle cx="527.0" cy="66.8" r="1.8"/>
<circle cx="529.7" cy="68.8" r="1.8"/>
<circle cx="527.7" cy="70.1" r="1.8"/>
<circle cx="523.0" cy="71.5" r="1.8"/>
<circle cx="520.3" cy="70.8" r="1.8"/>
<circle cx="517.6" cy="68.8" r="1.8"/>
<circle cx="514.9" cy="67.4" r="1.8"/>
<circle cx="511.6" cy="68.1" r="1.8"/>
<circle cx="508.9" cy="69.5" r="1.8"/>
<circle cx="504.8" cy="70.8" r="1.8"/>
<circle cx="507.5" cy="72.1" r="1.8"/>
<circle cx="510.2" cy="72.8" r="1.8"/>
<circle cx="512.9" cy="72.1" r="1.8"/>
<circle cx="515.6" cy="71.5" r="1.8"/>
<circle cx="512.2" cy="74.2" r="1.8"/>
<circle cx="514.9" cy="74.8" r="1.8"/>
<circle cx="518.3" cy="73.5" r="1.8"/>
<circle cx="508.9" cy="76.8" r="1.8"/>
<circle cx="512.2" cy="76.8" r="1.8"/>
<circle cx="515.6" cy="77.5" r="1.8"/>
<circle cx="518.3" cy="78.2" r="1.8"/>
<circle cx="503.5" cy="76.8" r="1.8"/>
<circle cx="508.2" cy="79.5" r="1.8"/>
<circle cx="511.6" cy="80.2" r="1.8"/>
<circle cx="514.2" cy="80.9" r="1.8"/>
<circle cx="500.1" cy="82.2" r="1.8"/>
<circle cx="492.1" cy="81.3" r="1.8"/>
<circle cx="508.2" cy="83.6" r="1.8"/>
<circle cx="510.9" cy="84.2" r="1.8"/>
<circle cx="507.5" cy="84.9" r="1.8"/>
<circle cx="500.8" cy="92.6" r="1.8"/>
<circle cx="511.9" cy="72.5" r="1.8"/>
<circle cx="514.1" cy="64.5" r="1.8"/>
<circle cx="512.2" cy="67.4" r="1.8"/>
<circle cx="520.1" cy="66.5" r="1.8"/>
<circle cx="519.3" cy="64.6" r="1.8"/>
<circle cx="517.4" cy="68.2" r="1.8"/>
<circle cx="515.5" cy="72.7" r="1.8"/>
<circle cx="513.3" cy="73.8" r="1.8"/>
<circle cx="518.8" cy="67.7" r="1.8"/>
<circle cx="520.3" cy="74.4" r="1.8"/>
<circle cx="516.0" cy="69.0" r="1.8"/>
<circle cx="516.4" cy="68.7" r="1.8"/>
<circle cx="515.4" cy="70.8" r="1.8"/>
<circle cx="521.9" cy="63.1" r="1.8"/>
<circle cx="518.7" cy="70.3" r="1.8"/>
<line class="dg" x1="486.43" y1="92.84" x2="564.97" y2="19.66"/>
<rect class="sp" x="482.50" y="16.00" width="86.40" height="80.50"/>
<line class="tk" x1="495.50" y1="96.50" x2="495.50" y2="98.58"/>
<text x="495.50" y="106.00" font-size="6.70" text-anchor="middle" textLength="8.74" lengthAdjust="spacingAndGlyphs" class="k">−2</text>
<line class="tk" x1="518.50" y1="96.50" x2="518.50" y2="98.58"/>
<text x="518.50" y="106.00" font-size="6.70" text-anchor="middle" textLength="3.77" lengthAdjust="spacingAndGlyphs" class="k">0</text>
<line class="tk" x1="541.50" y1="96.50" x2="541.50" y2="98.58"/>
<text x="541.50" y="106.00" font-size="6.70" text-anchor="middle" textLength="3.77" lengthAdjust="spacingAndGlyphs" class="k">2</text>
<line class="tk" x1="564.50" y1="96.50" x2="564.50" y2="98.58"/>
<text x="564.50" y="106.00" font-size="6.70" text-anchor="middle" textLength="3.77" lengthAdjust="spacingAndGlyphs" class="k">4</text>
<line class="tk" x1="480.42" y1="84.50" x2="482.50" y2="84.50"/>
<text x="478.34" y="87.10" font-size="6.70" text-anchor="end" textLength="8.74" lengthAdjust="spacingAndGlyphs" class="k">−2</text>
<line class="tk" x1="480.42" y1="62.50" x2="482.50" y2="62.50"/>
<text x="478.34" y="65.10" font-size="6.70" text-anchor="end" textLength="3.77" lengthAdjust="spacingAndGlyphs" class="k">0</text>
<line class="tk" x1="480.42" y1="41.50" x2="482.50" y2="41.50"/>
<text x="478.34" y="44.10" font-size="6.70" text-anchor="end" textLength="3.77" lengthAdjust="spacingAndGlyphs" class="k">2</text>
<line class="tk" x1="480.42" y1="20.50" x2="482.50" y2="20.50"/>
<text x="478.34" y="23.10" font-size="6.70" text-anchor="end" textLength="3.77" lengthAdjust="spacingAndGlyphs" class="k">4</text>
<text x="525.70" y="6.25" font-size="6.35" text-anchor="middle" textLength="48.69" lengthAdjust="spacingAndGlyphs">Ca43_leaf (Italy)</text>
<text x="525.70" y="12.45" font-size="6.35" text-anchor="middle" textLength="24.39" lengthAdjust="spacingAndGlyphs">r=0.581</text>
<text x="525.70" y="113.90" font-size="5.71" text-anchor="middle" textLength="26.50" lengthAdjust="spacingAndGlyphs" class="l">Prediction</text>
<text x="0.00" y="0.00" font-size="5.71" text-anchor="middle" textLength="14.41" lengthAdjust="spacingAndGlyphs" class="l" transform="translate(465.84 56.75) rotate(-90)">Label</text>
<line class="gr" x1="617.50" y1="16.00" x2="617.50" y2="96.50"/>
<line class="gr" x1="644.50" y1="16.00" x2="644.50" y2="96.50"/>
<line class="gr" x1="672.50" y1="16.00" x2="672.50" y2="96.50"/>
<line class="gr" x1="597.50" y1="78.50" x2="683.90" y2="78.50"/>
<line class="gr" x1="597.50" y1="52.50" x2="683.90" y2="52.50"/>
<line class="gr" x1="597.50" y1="26.50" x2="683.90" y2="26.50"/>
<circle cx="639.7" cy="19.6" r="1.8"/>
<circle cx="630.2" cy="35.5" r="1.8"/>
<circle cx="642.0" cy="37.5" r="1.8"/>
<circle cx="624.8" cy="46.0" r="1.8"/>
<circle cx="630.9" cy="46.6" r="1.8"/>
<circle cx="635.0" cy="44.9" r="1.8"/>
<circle cx="630.2" cy="49.6" r="1.8"/>
<circle cx="629.0" cy="55.6" r="1.8"/>
<circle cx="629.3" cy="61.0" r="1.8"/>
<circle cx="631.9" cy="60.3" r="1.8"/>
<circle cx="634.6" cy="60.7" r="1.8"/>
<circle cx="636.6" cy="59.7" r="1.8"/>
<circle cx="638.0" cy="62.5" r="1.8"/>
<circle cx="629.3" cy="62.7" r="1.8"/>
<circle cx="627.2" cy="64.1" r="1.8"/>
<circle cx="625.9" cy="65.4" r="1.8"/>
<circle cx="620.5" cy="65.4" r="1.8"/>
<circle cx="610.9" cy="66.1" r="1.8"/>
<circle cx="615.2" cy="67.4" r="1.8"/>
<circle cx="633.3" cy="65.4" r="1.8"/>
<circle cx="635.7" cy="67.4" r="1.8"/>
<circle cx="623.9" cy="67.4" r="1.8"/>
<circle cx="625.2" cy="69.5" r="1.8"/>
<circle cx="623.2" cy="70.8" r="1.8"/>
<circle cx="621.9" cy="72.1" r="1.8"/>
<circle cx="626.6" cy="72.8" r="1.8"/>
<circle cx="629.3" cy="73.5" r="1.8"/>
<circle cx="625.2" cy="74.2" r="1.8"/>
<circle cx="615.2" cy="72.8" r="1.8"/>
<circle cx="612.5" cy="76.2" r="1.8"/>
<circle cx="616.5" cy="75.5" r="1.8"/>
<circle cx="619.2" cy="76.2" r="1.8"/>
<circle cx="634.6" cy="76.2" r="1.8"/>
<circle cx="640.7" cy="74.8" r="1.8"/>
<circle cx="643.4" cy="79.9" r="1.8"/>
<circle cx="611.1" cy="80.2" r="1.8"/>
<circle cx="613.1" cy="79.5" r="1.8"/>
<circle cx="615.2" cy="80.9" r="1.8"/>
<circle cx="618.5" cy="80.2" r="1.8"/>
<circle cx="620.5" cy="81.5" r="1.8"/>
<circle cx="621.2" cy="83.6" r="1.8"/>
<circle cx="623.2" cy="82.9" r="1.8"/>
<circle cx="618.5" cy="84.9" r="1.8"/>
<circle cx="611.8" cy="83.6" r="1.8"/>
<circle cx="612.5" cy="86.9" r="1.8"/>
<circle cx="617.2" cy="86.2" r="1.8"/>
<circle cx="619.2" cy="87.6" r="1.8"/>
<circle cx="631.9" cy="82.2" r="1.8"/>
<circle cx="632.6" cy="84.2" r="1.8"/>
<circle cx="632.9" cy="86.9" r="1.8"/>
<circle cx="616.1" cy="92.3" r="1.8"/>
<circle cx="617.8" cy="88.9" r="1.8"/>
<circle cx="619.7" cy="79.1" r="1.8"/>
<circle cx="618.4" cy="83.0" r="1.8"/>
<circle cx="623.1" cy="80.2" r="1.8"/>
<circle cx="616.8" cy="84.4" r="1.8"/>
<circle cx="618.4" cy="85.0" r="1.8"/>
<circle cx="620.8" cy="84.6" r="1.8"/>
<circle cx="619.0" cy="80.8" r="1.8"/>
<circle cx="616.7" cy="83.3" r="1.8"/>
<circle cx="621.8" cy="83.0" r="1.8"/>
<circle cx="620.0" cy="80.7" r="1.8"/>
<line class="dg" x1="601.43" y1="92.84" x2="679.97" y2="19.66"/>
<rect class="sp" x="597.50" y="16.00" width="86.40" height="80.50"/>
<line class="tk" x1="617.50" y1="96.50" x2="617.50" y2="98.58"/>
<text x="617.50" y="106.00" font-size="6.70" text-anchor="middle" textLength="3.77" lengthAdjust="spacingAndGlyphs" class="k">0</text>
<line class="tk" x1="644.50" y1="96.50" x2="644.50" y2="98.58"/>
<text x="644.50" y="106.00" font-size="6.70" text-anchor="middle" textLength="3.77" lengthAdjust="spacingAndGlyphs" class="k">2</text>
<line class="tk" x1="672.50" y1="96.50" x2="672.50" y2="98.58"/>
<text x="672.50" y="106.00" font-size="6.70" text-anchor="middle" textLength="3.77" lengthAdjust="spacingAndGlyphs" class="k">4</text>
<line class="tk" x1="595.42" y1="78.50" x2="597.50" y2="78.50"/>
<text x="593.34" y="81.10" font-size="6.70" text-anchor="end" textLength="3.77" lengthAdjust="spacingAndGlyphs" class="k">0</text>
<line class="tk" x1="595.42" y1="52.50" x2="597.50" y2="52.50"/>
<text x="593.34" y="55.10" font-size="6.70" text-anchor="end" textLength="3.77" lengthAdjust="spacingAndGlyphs" class="k">2</text>
<line class="tk" x1="595.42" y1="26.50" x2="597.50" y2="26.50"/>
<text x="593.34" y="29.10" font-size="6.70" text-anchor="end" textLength="3.77" lengthAdjust="spacingAndGlyphs" class="k">4</text>
<text x="640.70" y="6.25" font-size="6.35" text-anchor="middle" textLength="51.44" lengthAdjust="spacingAndGlyphs">Se82_seed (Italy)</text>
<text x="640.70" y="12.45" font-size="6.35" text-anchor="middle" textLength="24.39" lengthAdjust="spacingAndGlyphs">r=0.555</text>
<text x="640.70" y="113.90" font-size="5.71" text-anchor="middle" textLength="26.50" lengthAdjust="spacingAndGlyphs" class="l">Prediction</text>
<text x="0.00" y="0.00" font-size="5.71" text-anchor="middle" textLength="14.41" lengthAdjust="spacingAndGlyphs" class="l" transform="translate(585.81 56.75) rotate(-90)">Label</text>
<line class="gr" x1="23.50" y1="137.50" x2="23.50" y2="217.70"/>
<line class="gr" x1="60.50" y1="137.50" x2="60.50" y2="217.70"/>
<line class="gr" x1="98.50" y1="137.50" x2="98.50" y2="217.70"/>
<line class="gr" x1="22.50" y1="217.50" x2="108.90" y2="217.50"/>
<line class="gr" x1="22.50" y1="199.50" x2="108.90" y2="199.50"/>
<line class="gr" x1="22.50" y1="182.50" x2="108.90" y2="182.50"/>
<line class="gr" x1="22.50" y1="164.50" x2="108.90" y2="164.50"/>
<line class="gr" x1="22.50" y1="147.50" x2="108.90" y2="147.50"/>
<circle cx="58.7" cy="140.8" r="1.8"/>
<circle cx="69.3" cy="155.4" r="1.8"/>
<circle cx="59.2" cy="161.9" r="1.8"/>
<circle cx="62.7" cy="165.9" r="1.8"/>
<circle cx="73.7" cy="163.6" r="1.8"/>
<circle cx="58.7" cy="171.9" r="1.8"/>
<circle cx="61.9" cy="174.6" r="1.8"/>
<circle cx="51.6" cy="174.4" r="1.8"/>
<circle cx="49.8" cy="177.7" r="1.8"/>
<circle cx="42.2" cy="176.6" r="1.8"/>
<circle cx="45.9" cy="180.0" r="1.8"/>
<circle cx="47.5" cy="181.3" r="1.8"/>
<circle cx="53.6" cy="182.9" r="1.8"/>
<circle cx="28.7" cy="185.4" r="1.8"/>
<circle cx="43.5" cy="186.7" r="1.8"/>
<circle cx="56.5" cy="188.4" r="1.8"/>
<circle cx="67.4" cy="185.8" r="1.8"/>
<circle cx="46.2" cy="189.8" r="1.8"/>
<circle cx="45.5" cy="191.8" r="1.8"/>
<circle cx="47.5" cy="192.9" r="1.8"/>
<circle cx="40.8" cy="194.5" r="1.8"/>
<circle cx="44.8" cy="194.5" r="1.8"/>
<circle cx="52.9" cy="194.2" r="1.8"/>
<circle cx="52.2" cy="197.2" r="1.8"/>
<circle cx="51.6" cy="198.5" r="1.8"/>
<circle cx="48.2" cy="197.8" r="1.8"/>
<circle cx="51.8" cy="201.2" r="1.8"/>
<circle cx="42.8" cy="201.2" r="1.8"/>
<circle cx="40.1" cy="203.2" r="1.8"/>
<circle cx="44.2" cy="204.6" r="1.8"/>
<circle cx="42.2" cy="205.9" r="1.8"/>
<circle cx="48.2" cy="205.0" r="1.8"/>
<circle cx="51.2" cy="206.6" r="1.8"/>
<circle cx="62.3" cy="205.9" r="1.8"/>
<circle cx="44.2" cy="209.5" r="1.8"/>
<circle cx="46.2" cy="211.9" r="1.8"/>
<circle cx="47.5" cy="212.6" r="1.8"/>
<circle cx="49.8" cy="212.2" r="1.8"/>
<circle cx="38.4" cy="214.2" r="1.8"/>
<line class="dg" x1="26.43" y1="214.05" x2="104.97" y2="141.15"/>
<rect class="sp" x="22.50" y="137.50" width="86.40" height="80.20"/>
<line class="tk" x1="23.50" y1="217.70" x2="23.50" y2="219.78"/>
<text x="23.50" y="227.20" font-size="6.70" text-anchor="middle" textLength="8.74" lengthAdjust="spacingAndGlyphs" class="k">−2</text>
<line class="tk" x1="60.50" y1="217.70" x2="60.50" y2="219.78"/>
<text x="60.50" y="227.20" font-size="6.70" text-anchor="middle" textLength="3.77" lengthAdjust="spacingAndGlyphs" class="k">0</text>
<line class="tk" x1="98.50" y1="217.70" x2="98.50" y2="219.78"/>
<text x="98.50" y="227.20" font-size="6.70" text-anchor="middle" textLength="3.77" lengthAdjust="spacingAndGlyphs" class="k">2</text>
<line class="tk" x1="20.42" y1="217.50" x2="22.50" y2="217.50"/>
<text x="18.34" y="220.10" font-size="6.70" text-anchor="end" textLength="8.74" lengthAdjust="spacingAndGlyphs" class="k">−2</text>
<line class="tk" x1="20.42" y1="199.50" x2="22.50" y2="199.50"/>
<text x="18.34" y="202.10" font-size="6.70" text-anchor="end" textLength="8.74" lengthAdjust="spacingAndGlyphs" class="k">−1</text>
<line class="tk" x1="20.42" y1="182.50" x2="22.50" y2="182.50"/>
<text x="18.34" y="185.10" font-size="6.70" text-anchor="end" textLength="3.77" lengthAdjust="spacingAndGlyphs" class="k">0</text>
<line class="tk" x1="20.42" y1="164.50" x2="22.50" y2="164.50"/>
<text x="18.34" y="167.10" font-size="6.70" text-anchor="end" textLength="3.77" lengthAdjust="spacingAndGlyphs" class="k">1</text>
<line class="tk" x1="20.42" y1="147.50" x2="22.50" y2="147.50"/>
<text x="18.34" y="150.10" font-size="6.70" text-anchor="end" textLength="3.77" lengthAdjust="spacingAndGlyphs" class="k">2</text>
<text x="65.70" y="127.40" font-size="6.35" text-anchor="middle" textLength="43.28" lengthAdjust="spacingAndGlyphs">As75_leaf (US)</text>
<text x="65.70" y="133.60" font-size="6.35" text-anchor="middle" textLength="24.39" lengthAdjust="spacingAndGlyphs">r=0.543</text>
<text x="65.70" y="235.10" font-size="5.71" text-anchor="middle" textLength="26.50" lengthAdjust="spacingAndGlyphs" class="l">Prediction</text>
<text x="0.00" y="0.00" font-size="5.71" text-anchor="middle" textLength="14.41" lengthAdjust="spacingAndGlyphs" class="l" transform="translate(5.84 178.10) rotate(-90)">Label</text>
<line class="gr" x1="138.50" y1="137.50" x2="138.50" y2="217.70"/>
<line class="gr" x1="160.50" y1="137.50" x2="160.50" y2="217.70"/>
<line class="gr" x1="182.50" y1="137.50" x2="182.50" y2="217.70"/>
<line class="gr" x1="204.50" y1="137.50" x2="204.50" y2="217.70"/>
<line class="gr" x1="137.50" y1="217.50" x2="223.90" y2="217.50"/>
<line class="gr" x1="137.50" y1="196.50" x2="223.90" y2="196.50"/>
<line class="gr" x1="137.50" y1="176.50" x2="223.90" y2="176.50"/>
<line class="gr" x1="137.50" y1="155.50" x2="223.90" y2="155.50"/>
<circle cx="181.1" cy="140.8" r="1.8"/>
<circle cx="192.8" cy="142.0" r="1.8"/>
<circle cx="179.3" cy="149.1" r="1.8"/>
<circle cx="196.1" cy="149.8" r="1.8"/>
<circle cx="169.0" cy="156.1" r="1.8"/>
<circle cx="177.3" cy="157.8" r="1.8"/>
<circle cx="188.7" cy="158.2" r="1.8"/>
<circle cx="195.8" cy="156.8" r="1.8"/>
<circle cx="214.2" cy="158.1" r="1.8"/>
<circle cx="169.0" cy="168.3" r="1.8"/>
<circle cx="173.0" cy="166.6" r="1.8"/>
<circle cx="182.0" cy="166.8" r="1.8"/>
<circle cx="186.7" cy="165.6" r="1.8"/>
<circle cx="184.7" cy="167.0" r="1.8"/>
<circle cx="173.9" cy="171.3" r="1.8"/>
<circle cx="176.6" cy="171.3" r="1.8"/>
<circle cx="181.3" cy="170.6" r="1.8"/>
<circle cx="184.0" cy="171.9" r="1.8"/>
<circle cx="186.0" cy="172.9" r="1.8"/>
<circle cx="190.1" cy="173.9" r="1.8"/>
<circle cx="191.4" cy="175.3" r="1.8"/>
<circle cx="199.5" cy="173.0" r="1.8"/>
<circle cx="201.1" cy="173.9" r="1.8"/>
<circle cx="205.9" cy="171.9" r="1.8"/>
<circle cx="171.3" cy="177.3" r="1.8"/>
<circle cx="175.3" cy="178.0" r="1.8"/>
<circle cx="172.6" cy="178.6" r="1.8"/>
<circle cx="177.3" cy="175.3" r="1.8"/>
<circle cx="180.7" cy="179.1" r="1.8"/>
<circle cx="188.1" cy="178.6" r="1.8"/>
<circle cx="189.8" cy="176.9" r="1.8"/>
<circle cx="169.9" cy="181.3" r="1.8"/>
<circle cx="190.7" cy="181.3" r="1.8"/>
<circle cx="179.3" cy="181.3" r="1.8"/>
<circle cx="156.2" cy="186.4" r="1.8"/>
<circle cx="162.5" cy="187.1" r="1.8"/>
<circle cx="169.2" cy="187.8" r="1.8"/>
<circle cx="173.9" cy="185.8" r="1.8"/>
<circle cx="175.3" cy="185.1" r="1.8"/>
<circle cx="178.0" cy="185.8" r="1.8"/>
<circle cx="180.7" cy="186.4" r="1.8"/>
<circle cx="179.3" cy="187.8" r="1.8"/>
<circle cx="184.0" cy="187.5" r="1.8"/>
<circle cx="188.1" cy="187.5" r="1.8"/>
<circle cx="160.5" cy="191.1" r="1.8"/>
<circle cx="165.9" cy="192.5" r="1.8"/>
<circle cx="171.3" cy="189.8" r="1.8"/>
<circle cx="173.3" cy="190.5" r="1.8"/>
<circle cx="175.3" cy="191.8" r="1.8"/>
<circle cx="178.0" cy="190.5" r="1.8"/>
<circle cx="180.0" cy="189.1" r="1.8"/>
<circle cx="171.3" cy="192.5" r="1.8"/>
<circle cx="167.9" cy="195.2" r="1.8"/>
<circle cx="169.9" cy="197.2" r="1.8"/>
<circle cx="176.0" cy="197.2" r="1.8"/>
<circle cx="182.9" cy="198.8" r="1.8"/>
<circle cx="163.5" cy="200.3" r="1.8"/>
<circle cx="169.5" cy="201.2" r="1.8"/>
<circle cx="172.9" cy="205.2" r="1.8"/>
<circle cx="180.7" cy="208.2" r="1.8"/>
<circle cx="168.2" cy="209.5" r="1.8"/>
<circle cx="165.6" cy="214.0" r="1.8"/>
<circle cx="172.7" cy="193.3" r="1.8"/>
<circle cx="174.0" cy="192.0" r="1.8"/>
<circle cx="173.2" cy="191.3" r="1.8"/>
<circle cx="173.2" cy="191.0" r="1.8"/>
<circle cx="170.7" cy="190.2" r="1.8"/>
<circle cx="184.5" cy="166.7" r="1.8"/>
<circle cx="186.1" cy="164.5" r="1.8"/>
<circle cx="182.9" cy="166.9" r="1.8"/>
<line class="dg" x1="141.43" y1="214.05" x2="219.97" y2="141.15"/>
<rect class="sp" x="137.50" y="137.50" width="86.40" height="80.20"/>
<line class="tk" x1="138.50" y1="217.70" x2="138.50" y2="219.78"/>
<text x="138.50" y="227.20" font-size="6.70" text-anchor="middle" textLength="8.74" lengthAdjust="spacingAndGlyphs" class="k">−2</text>
<line class="tk" x1="160.50" y1="217.70" x2="160.50" y2="219.78"/>
<text x="160.50" y="227.20" font-size="6.70" text-anchor="middle" textLength="8.74" lengthAdjust="spacingAndGlyphs" class="k">−1</text>
<line class="tk" x1="182.50" y1="217.70" x2="182.50" y2="219.78"/>
<text x="182.50" y="227.20" font-size="6.70" text-anchor="middle" textLength="3.77" lengthAdjust="spacingAndGlyphs" class="k">0</text>
<line class="tk" x1="204.50" y1="217.70" x2="204.50" y2="219.78"/>
<text x="204.50" y="227.20" font-size="6.70" text-anchor="middle" textLength="3.77" lengthAdjust="spacingAndGlyphs" class="k">1</text>
<line class="tk" x1="135.42" y1="217.50" x2="137.50" y2="217.50"/>
<text x="133.34" y="220.10" font-size="6.70" text-anchor="end" textLength="8.74" lengthAdjust="spacingAndGlyphs" class="k">−2</text>
<line class="tk" x1="135.42" y1="196.50" x2="137.50" y2="196.50"/>
<text x="133.34" y="199.10" font-size="6.70" text-anchor="end" textLength="8.74" lengthAdjust="spacingAndGlyphs" class="k">−1</text>
<line class="tk" x1="135.42" y1="176.50" x2="137.50" y2="176.50"/>
<text x="133.34" y="179.10" font-size="6.70" text-anchor="end" textLength="3.77" lengthAdjust="spacingAndGlyphs" class="k">0</text>
<line class="tk" x1="135.42" y1="155.50" x2="137.50" y2="155.50"/>
<text x="133.34" y="158.10" font-size="6.70" text-anchor="end" textLength="3.77" lengthAdjust="spacingAndGlyphs" class="k">1</text>
<text x="180.70" y="127.40" font-size="6.35" text-anchor="middle" textLength="52.91" lengthAdjust="spacingAndGlyphs">Mn55_seed (Italy)</text>
<text x="180.70" y="133.60" font-size="6.35" text-anchor="middle" textLength="24.39" lengthAdjust="spacingAndGlyphs">r=0.531</text>
<text x="180.70" y="235.10" font-size="5.71" text-anchor="middle" textLength="26.50" lengthAdjust="spacingAndGlyphs" class="l">Prediction</text>
<text x="0.00" y="0.00" font-size="5.71" text-anchor="middle" textLength="14.41" lengthAdjust="spacingAndGlyphs" class="l" transform="translate(120.84 178.10) rotate(-90)">Label</text>
<line class="gr" x1="269.50" y1="137.50" x2="269.50" y2="217.70"/>
<line class="gr" x1="294.50" y1="137.50" x2="294.50" y2="217.70"/>
<line class="gr" x1="319.50" y1="137.50" x2="319.50" y2="217.70"/>
<line class="gr" x1="252.50" y1="202.50" x2="338.90" y2="202.50"/>
<line class="gr" x1="252.50" y1="178.50" x2="338.90" y2="178.50"/>
<line class="gr" x1="252.50" y1="155.50" x2="338.90" y2="155.50"/>
<circle cx="269.9" cy="140.8" r="1.8"/>
<circle cx="273.1" cy="153.1" r="1.8"/>
<circle cx="297.3" cy="156.5" r="1.8"/>
<circle cx="271.5" cy="164.1" r="1.8"/>
<circle cx="277.8" cy="164.1" r="1.8"/>
<circle cx="307.1" cy="164.8" r="1.8"/>
<circle cx="272.6" cy="183.1" r="1.8"/>
<circle cx="270.8" cy="186.7" r="1.8"/>
<circle cx="265.0" cy="194.2" r="1.8"/>
<circle cx="263.4" cy="201.5" r="1.8"/>
<circle cx="266.1" cy="203.2" r="1.8"/>
<circle cx="268.8" cy="201.9" r="1.8"/>
<circle cx="271.5" cy="202.5" r="1.8"/>
<circle cx="272.8" cy="200.5" r="1.8"/>
<circle cx="256.0" cy="206.6" r="1.8"/>
<circle cx="257.4" cy="207.2" r="1.8"/>
<circle cx="258.1" cy="208.6" r="1.8"/>
<circle cx="260.1" cy="207.7" r="1.8"/>
<circle cx="261.4" cy="205.9" r="1.8"/>
<circle cx="262.8" cy="205.2" r="1.8"/>
<circle cx="264.1" cy="204.6" r="1.8"/>
<circle cx="265.4" cy="205.2" r="1.8"/>
<circle cx="267.5" cy="203.9" r="1.8"/>
<circle cx="269.5" cy="205.2" r="1.8"/>
<circle cx="271.5" cy="205.9" r="1.8"/>
<circle cx="262.8" cy="207.9" r="1.8"/>
<circle cx="264.8" cy="207.2" r="1.8"/>
<circle cx="266.8" cy="207.9" r="1.8"/>
<circle cx="268.8" cy="207.2" r="1.8"/>
<circle cx="270.8" cy="207.9" r="1.8"/>
<circle cx="262.1" cy="209.9" r="1.8"/>
<circle cx="264.1" cy="210.6" r="1.8"/>
<circle cx="266.1" cy="209.9" r="1.8"/>
<circle cx="260.1" cy="210.6" r="1.8"/>
<circle cx="263.4" cy="212.6" r="1.8"/>
<circle cx="272.2" cy="209.3" r="1.8"/>
<circle cx="273.9" cy="211.9" r="1.8"/>
<circle cx="273.1" cy="214.4" r="1.8"/>
<circle cx="280.2" cy="202.8" r="1.8"/>
<circle cx="281.6" cy="204.2" r="1.8"/>
<circle cx="282.2" cy="205.6" r="1.8"/>
<circle cx="256.7" cy="208.6" r="1.8"/>
<circle cx="258.7" cy="205.9" r="1.8"/>
<circle cx="268.1" cy="205.9" r="1.8"/>
<circle cx="270.1" cy="209.3" r="1.8"/>
<circle cx="263.5" cy="208.3" r="1.8"/>
<circle cx="270.6" cy="208.3" r="1.8"/>
<circle cx="269.4" cy="205.9" r="1.8"/>
<circle cx="266.8" cy="206.2" r="1.8"/>
<circle cx="262.0" cy="207.6" r="1.8"/>
<circle cx="268.8" cy="206.5" r="1.8"/>
<circle cx="264.5" cy="205.5" r="1.8"/>
<circle cx="265.4" cy="206.1" r="1.8"/>
<circle cx="266.4" cy="207.8" r="1.8"/>
<circle cx="259.6" cy="209.2" r="1.8"/>
<line class="dg" x1="256.43" y1="214.05" x2="334.97" y2="141.15"/>
<rect class="sp" x="252.50" y="137.50" width="86.40" height="80.20"/>
<line class="tk" x1="269.50" y1="217.70" x2="269.50" y2="219.78"/>
<text x="269.50" y="227.20" font-size="6.70" text-anchor="middle" textLength="3.77" lengthAdjust="spacingAndGlyphs" class="k">0</text>
<line class="tk" x1="294.50" y1="217.70" x2="294.50" y2="219.78"/>
<text x="294.50" y="227.20" font-size="6.70" text-anchor="middle" textLength="3.77" lengthAdjust="spacingAndGlyphs" class="k">2</text>
<line class="tk" x1="319.50" y1="217.70" x2="319.50" y2="219.78"/>
<text x="319.50" y="227.20" font-size="6.70" text-anchor="middle" textLength="3.77" lengthAdjust="spacingAndGlyphs" class="k">4</text>
<line class="tk" x1="250.42" y1="202.50" x2="252.50" y2="202.50"/>
<text x="248.34" y="205.10" font-size="6.70" text-anchor="end" textLength="3.77" lengthAdjust="spacingAndGlyphs" class="k">0</text>
<line class="tk" x1="250.42" y1="178.50" x2="252.50" y2="178.50"/>
<text x="248.34" y="181.10" font-size="6.70" text-anchor="end" textLength="3.77" lengthAdjust="spacingAndGlyphs" class="k">2</text>
<line class="tk" x1="250.42" y1="155.50" x2="252.50" y2="155.50"/>
<text x="248.34" y="158.10" font-size="6.70" text-anchor="end" textLength="3.77" lengthAdjust="spacingAndGlyphs" class="k">4</text>
<text x="295.70" y="127.40" font-size="6.35" text-anchor="middle" textLength="45.02" lengthAdjust="spacingAndGlyphs">Mo98_leaf (UK)</text>
<text x="295.70" y="133.60" font-size="6.35" text-anchor="middle" textLength="24.39" lengthAdjust="spacingAndGlyphs">r=0.525</text>
<text x="295.70" y="235.10" font-size="5.71" text-anchor="middle" textLength="26.50" lengthAdjust="spacingAndGlyphs" class="l">Prediction</text>
<text x="0.00" y="0.00" font-size="5.71" text-anchor="middle" textLength="14.41" lengthAdjust="spacingAndGlyphs" class="l" transform="translate(240.81 178.10) rotate(-90)">Label</text>
<line class="gr" x1="370.50" y1="137.50" x2="370.50" y2="217.70"/>
<line class="gr" x1="394.50" y1="137.50" x2="394.50" y2="217.70"/>
<line class="gr" x1="418.50" y1="137.50" x2="418.50" y2="217.70"/>
<line class="gr" x1="442.50" y1="137.50" x2="442.50" y2="217.70"/>
<line class="gr" x1="367.50" y1="215.50" x2="453.90" y2="215.50"/>
<line class="gr" x1="367.50" y1="192.50" x2="453.90" y2="192.50"/>
<line class="gr" x1="367.50" y1="170.50" x2="453.90" y2="170.50"/>
<line class="gr" x1="367.50" y1="148.50" x2="453.90" y2="148.50"/>
<circle cx="411.7" cy="140.8" r="1.8"/>
<circle cx="408.0" cy="147.8" r="1.8"/>
<circle cx="404.6" cy="150.8" r="1.8"/>
<circle cx="411.1" cy="149.8" r="1.8"/>
<circle cx="399.7" cy="151.8" r="1.8"/>
<circle cx="393.9" cy="156.1" r="1.8"/>
<circle cx="400.6" cy="156.2" r="1.8"/>
<circle cx="402.3" cy="156.8" r="1.8"/>
<circle cx="401.9" cy="158.9" r="1.8"/>
<circle cx="416.0" cy="159.8" r="1.8"/>
<circle cx="415.0" cy="161.6" r="1.8"/>
<circle cx="422.1" cy="161.2" r="1.8"/>
<circle cx="394.8" cy="164.8" r="1.8"/>
<circle cx="408.0" cy="164.8" r="1.8"/>
<circle cx="410.7" cy="164.5" r="1.8"/>
<circle cx="410.0" cy="167.2" r="1.8"/>
<circle cx="402.3" cy="168.6" r="1.8"/>
<circle cx="419.4" cy="167.0" r="1.8"/>
<circle cx="423.0" cy="166.8" r="1.8"/>
<circle cx="387.2" cy="172.3" r="1.8"/>
<circle cx="381.8" cy="175.0" r="1.8"/>
<circle cx="393.2" cy="174.6" r="1.8"/>
<circle cx="399.9" cy="175.3" r="1.8"/>
<circle cx="403.3" cy="173.9" r="1.8"/>
<circle cx="403.9" cy="176.0" r="1.8"/>
<circle cx="408.0" cy="171.3" r="1.8"/>
<circle cx="410.0" cy="171.9" r="1.8"/>
<circle cx="412.0" cy="173.3" r="1.8"/>
<circle cx="414.7" cy="174.6" r="1.8"/>
<circle cx="389.8" cy="178.6" r="1.8"/>
<circle cx="391.9" cy="178.0" r="1.8"/>
<circle cx="388.5" cy="180.0" r="1.8"/>
<circle cx="400.6" cy="178.6" r="1.8"/>
<circle cx="401.3" cy="180.0" r="1.8"/>
<circle cx="405.3" cy="178.0" r="1.8"/>
<circle cx="408.0" cy="178.6" r="1.8"/>
<circle cx="410.7" cy="180.0" r="1.8"/>
<circle cx="398.6" cy="181.3" r="1.8"/>
<circle cx="412.0" cy="181.3" r="1.8"/>
<circle cx="391.9" cy="179.7" r="1.8"/>
<circle cx="409.3" cy="174.3" r="1.8"/>
<circle cx="411.3" cy="175.7" r="1.8"/>
<circle cx="413.4" cy="179.7" r="1.8"/>
<circle cx="400.6" cy="182.4" r="1.8"/>
<circle cx="403.9" cy="183.7" r="1.8"/>
<circle cx="406.0" cy="185.8" r="1.8"/>
<circle cx="408.0" cy="186.4" r="1.8"/>
<circle cx="409.3" cy="184.4" r="1.8"/>
<circle cx="386.5" cy="185.1" r="1.8"/>
<circle cx="388.5" cy="186.4" r="1.8"/>
<circle cx="390.5" cy="184.4" r="1.8"/>
<circle cx="392.5" cy="185.8" r="1.8"/>
<circle cx="385.1" cy="187.8" r="1.8"/>
<circle cx="387.2" cy="189.1" r="1.8"/>
<circle cx="389.8" cy="188.4" r="1.8"/>
<circle cx="391.9" cy="189.8" r="1.8"/>
<circle cx="393.9" cy="187.8" r="1.8"/>
<circle cx="395.9" cy="189.1" r="1.8"/>
<circle cx="397.9" cy="189.8" r="1.8"/>
<circle cx="399.9" cy="188.4" r="1.8"/>
<circle cx="382.5" cy="190.5" r="1.8"/>
<circle cx="385.1" cy="191.8" r="1.8"/>
<circle cx="387.8" cy="191.1" r="1.8"/>
<circle cx="390.5" cy="191.8" r="1.8"/>
<circle cx="392.5" cy="191.1" r="1.8"/>
<circle cx="395.2" cy="192.5" r="1.8"/>
<circle cx="397.2" cy="191.1" r="1.8"/>
<circle cx="399.2" cy="191.8" r="1.8"/>
<circle cx="401.3" cy="193.1" r="1.8"/>
<circle cx="403.9" cy="193.1" r="1.8"/>
<circle cx="406.6" cy="191.8" r="1.8"/>
<circle cx="405.3" cy="189.8" r="1.8"/>
<circle cx="402.6" cy="190.5" r="1.8"/>
<circle cx="408.0" cy="195.2" r="1.8"/>
<circle cx="410.0" cy="197.2" r="1.8"/>
<circle cx="406.6" cy="196.5" r="1.8"/>
<circle cx="403.9" cy="195.8" r="1.8"/>
<circle cx="401.3" cy="195.8" r="1.8"/>
<circle cx="398.6" cy="195.2" r="1.8"/>
<circle cx="395.9" cy="194.5" r="1.8"/>
<circle cx="393.9" cy="195.8" r="1.8"/>
<circle cx="391.9" cy="194.5" r="1.8"/>
<circle cx="389.2" cy="195.2" r="1.8"/>
<circle cx="386.5" cy="194.5" r="1.8"/>
<circle cx="383.8" cy="195.2" r="1.8"/>
<circle cx="381.8" cy="197.8" r="1.8"/>
<circle cx="384.5" cy="198.5" r="1.8"/>
<circle cx="387.2" cy="197.8" r="1.8"/>
<circle cx="389.8" cy="198.5" r="1.8"/>
<circle cx="392.5" cy="197.8" r="1.8"/>
<circle cx="395.2" cy="198.5" r="1.8"/>
<circle cx="397.9" cy="197.8" r="1.8"/>
<circle cx="400.6" cy="199.2" r="1.8"/>
<circle cx="403.3" cy="199.2" r="1.8"/>
<circle cx="406.0" cy="199.9" r="1.8"/>
<circle cx="408.6" cy="199.2" r="1.8"/>
<circle cx="381.1" cy="199.9" r="1.8"/>
<circle cx="383.8" cy="200.5" r="1.8"/>
<circle cx="386.5" cy="201.2" r="1.8"/>
<circle cx="389.2" cy="200.5" r="1.8"/>
<circle cx="391.9" cy="201.2" r="1.8"/>
<circle cx="394.5" cy="200.5" r="1.8"/>
<circle cx="397.2" cy="201.9" r="1.8"/>
<circle cx="399.9" cy="201.2" r="1.8"/>
<circle cx="402.6" cy="201.9" r="1.8"/>
<circle cx="405.3" cy="202.5" r="1.8"/>
<circle cx="408.0" cy="201.2" r="1.8"/>
<circle cx="379.8" cy="204.6" r="1.8"/>
<circle cx="382.5" cy="204.6" r="1.8"/>
<circle cx="385.1" cy="203.2" r="1.8"/>
<circle cx="387.8" cy="203.9" r="1.8"/>
<circle cx="390.5" cy="205.2" r="1.8"/>
<circle cx="393.2" cy="203.9" r="1.8"/>
<circle cx="395.9" cy="205.2" r="1.8"/>
<circle cx="398.6" cy="204.6" r="1.8"/>
<circle cx="401.3" cy="205.9" r="1.8"/>
<circle cx="403.9" cy="205.2" r="1.8"/>
<circle cx="410.7" cy="205.0" r="1.8"/>
<circle cx="381.1" cy="209.3" r="1.8"/>
<circle cx="384.5" cy="207.9" r="1.8"/>
<circle cx="387.8" cy="207.9" r="1.8"/>
<circle cx="391.2" cy="209.3" r="1.8"/>
<circle cx="393.9" cy="207.9" r="1.8"/>
<circle cx="397.2" cy="208.6" r="1.8"/>
<circle cx="399.9" cy="207.2" r="1.8"/>
<circle cx="402.6" cy="207.9" r="1.8"/>
<circle cx="389.8" cy="211.9" r="1.8"/>
<circle cx="383.8" cy="214.0" r="1.8"/>
<circle cx="390.8" cy="186.8" r="1.8"/>
<circle cx="391.9" cy="185.7" r="1.8"/>
<circle cx="391.1" cy="178.8" r="1.8"/>
<circle cx="392.0" cy="184.5" r="1.8"/>
<circle cx="391.8" cy="187.0" r="1.8"/>
<circle cx="400.4" cy="187.7" r="1.8"/>
<circle cx="394.6" cy="182.9" r="1.8"/>
<circle cx="393.1" cy="179.3" r="1.8"/>
<circle cx="394.2" cy="187.0" r="1.8"/>
<circle cx="390.4" cy="184.3" r="1.8"/>
<circle cx="389.3" cy="184.1" r="1.8"/>
<circle cx="399.7" cy="181.7" r="1.8"/>
<circle cx="383.9" cy="197.0" r="1.8"/>
<circle cx="392.8" cy="197.9" r="1.8"/>
<circle cx="389.7" cy="199.9" r="1.8"/>
<circle cx="385.7" cy="204.8" r="1.8"/>
<circle cx="398.2" cy="198.9" r="1.8"/>
<circle cx="385.9" cy="201.9" r="1.8"/>
<circle cx="398.6" cy="191.4" r="1.8"/>
<circle cx="397.2" cy="196.1" r="1.8"/>
<circle cx="390.8" cy="194.3" r="1.8"/>
<circle cx="398.6" cy="193.7" r="1.8"/>
<circle cx="387.6" cy="199.7" r="1.8"/>
<circle cx="390.2" cy="196.4" r="1.8"/>
<circle cx="380.8" cy="206.1" r="1.8"/>
<circle cx="400.9" cy="189.5" r="1.8"/>
<circle cx="400.2" cy="190.1" r="1.8"/>
<circle cx="395.9" cy="197.6" r="1.8"/>
<circle cx="391.4" cy="196.8" r="1.8"/>
<circle cx="395.8" cy="186.8" r="1.8"/>
<circle cx="398.6" cy="192.3" r="1.8"/>
<circle cx="385.3" cy="199.5" r="1.8"/>
<circle cx="402.9" cy="190.4" r="1.8"/>
<circle cx="392.9" cy="197.6" r="1.8"/>
<line class="dg" x1="371.43" y1="214.05" x2="449.97" y2="141.15"/>
<rect class="sp" x="367.50" y="137.50" width="86.40" height="80.20"/>
<line class="tk" x1="370.50" y1="217.70" x2="370.50" y2="219.78"/>
<text x="370.50" y="227.20" font-size="6.70" text-anchor="middle" textLength="8.74" lengthAdjust="spacingAndGlyphs" class="k">−2</text>
<line class="tk" x1="394.50" y1="217.70" x2="394.50" y2="219.78"/>
<text x="394.50" y="227.20" font-size="6.70" text-anchor="middle" textLength="3.77" lengthAdjust="spacingAndGlyphs" class="k">0</text>
<line class="tk" x1="418.50" y1="217.70" x2="418.50" y2="219.78"/>
<text x="418.50" y="227.20" font-size="6.70" text-anchor="middle" textLength="3.77" lengthAdjust="spacingAndGlyphs" class="k">2</text>
<line class="tk" x1="442.50" y1="217.70" x2="442.50" y2="219.78"/>
<text x="442.50" y="227.20" font-size="6.70" text-anchor="middle" textLength="3.77" lengthAdjust="spacingAndGlyphs" class="k">4</text>
<line class="tk" x1="365.42" y1="215.50" x2="367.50" y2="215.50"/>
<text x="363.34" y="218.10" font-size="6.70" text-anchor="end" textLength="8.74" lengthAdjust="spacingAndGlyphs" class="k">−2</text>
<line class="tk" x1="365.42" y1="192.50" x2="367.50" y2="192.50"/>
<text x="363.34" y="195.10" font-size="6.70" text-anchor="end" textLength="3.77" lengthAdjust="spacingAndGlyphs" class="k">0</text>
<line class="tk" x1="365.42" y1="170.50" x2="367.50" y2="170.50"/>
<text x="363.34" y="173.10" font-size="6.70" text-anchor="end" textLength="3.77" lengthAdjust="spacingAndGlyphs" class="k">2</text>
<line class="tk" x1="365.42" y1="148.50" x2="367.50" y2="148.50"/>
<text x="363.34" y="151.10" font-size="6.70" text-anchor="end" textLength="3.77" lengthAdjust="spacingAndGlyphs" class="k">4</text>
<text x="410.70" y="127.40" font-size="6.35" text-anchor="middle" textLength="52.38" lengthAdjust="spacingAndGlyphs">Co59_leaf (Spain)</text>
<text x="410.70" y="133.60" font-size="6.35" text-anchor="middle" textLength="24.39" lengthAdjust="spacingAndGlyphs">r=0.507</text>
<text x="410.70" y="235.10" font-size="5.71" text-anchor="middle" textLength="26.50" lengthAdjust="spacingAndGlyphs" class="l">Prediction</text>
<text x="0.00" y="0.00" font-size="5.71" text-anchor="middle" textLength="14.41" lengthAdjust="spacingAndGlyphs" class="l" transform="translate(350.84 178.10) rotate(-90)">Label</text>
<line class="gr" x1="506.50" y1="137.50" x2="506.50" y2="217.70"/>
<line class="gr" x1="540.50" y1="137.50" x2="540.50" y2="217.70"/>
<line class="gr" x1="482.50" y1="210.50" x2="568.90" y2="210.50"/>
<line class="gr" x1="482.50" y1="195.50" x2="568.90" y2="195.50"/>
<line class="gr" x1="482.50" y1="179.50" x2="568.90" y2="179.50"/>
<line class="gr" x1="482.50" y1="163.50" x2="568.90" y2="163.50"/>
<line class="gr" x1="482.50" y1="148.50" x2="568.90" y2="148.50"/>
<circle cx="520.6" cy="140.8" r="1.8"/>
<circle cx="515.2" cy="147.1" r="1.8"/>
<circle cx="518.9" cy="154.9" r="1.8"/>
<circle cx="506.2" cy="158.9" r="1.8"/>
<circle cx="516.3" cy="160.5" r="1.8"/>
<circle cx="502.6" cy="163.9" r="1.8"/>
<circle cx="508.2" cy="165.6" r="1.8"/>
<circle cx="511.6" cy="165.9" r="1.8"/>
<circle cx="514.2" cy="166.2" r="1.8"/>
<circle cx="520.3" cy="166.8" r="1.8"/>
<circle cx="522.3" cy="165.2" r="1.8"/>
<circle cx="528.4" cy="166.6" r="1.8"/>
<circle cx="526.3" cy="169.2" r="1.8"/>
<circle cx="504.6" cy="169.2" r="1.8"/>
<circle cx="515.6" cy="171.3" r="1.8"/>
<circle cx="517.6" cy="171.9" r="1.8"/>
<circle cx="514.9" cy="173.3" r="1.8"/>
<circle cx="512.9" cy="173.9" r="1.8"/>
<circle cx="516.3" cy="174.6" r="1.8"/>
<circle cx="518.9" cy="173.9" r="1.8"/>
<circle cx="520.3" cy="176.0" r="1.8"/>
<circle cx="524.3" cy="175.3" r="1.8"/>
<circle cx="532.6" cy="174.9" r="1.8"/>
<circle cx="499.1" cy="175.0" r="1.8"/>
<circle cx="503.5" cy="175.3" r="1.8"/>
<circle cx="504.8" cy="177.7" r="1.8"/>
<circle cx="508.9" cy="178.0" r="1.8"/>
<circle cx="512.2" cy="177.3" r="1.8"/>
<circle cx="514.9" cy="176.6" r="1.8"/>
<circle cx="517.6" cy="178.0" r="1.8"/>
<circle cx="520.3" cy="178.0" r="1.8"/>
<circle cx="501.5" cy="180.7" r="1.8"/>
<circle cx="505.5" cy="181.3" r="1.8"/>
<circle cx="509.5" cy="180.7" r="1.8"/>
<circle cx="513.6" cy="180.7" r="1.8"/>
<circle cx="517.6" cy="181.3" r="1.8"/>
<circle cx="521.6" cy="182.0" r="1.8"/>
<circle cx="527.7" cy="182.7" r="1.8"/>
<circle cx="514.9" cy="179.0" r="1.8"/>
<circle cx="523.0" cy="183.7" r="1.8"/>
<circle cx="525.7" cy="184.4" r="1.8"/>
<circle cx="497.9" cy="185.1" r="1.8"/>
<circle cx="502.8" cy="186.4" r="1.8"/>
<circle cx="506.9" cy="185.1" r="1.8"/>
<circle cx="509.5" cy="184.4" r="1.8"/>
<circle cx="512.2" cy="185.8" r="1.8"/>
<circle cx="514.9" cy="185.1" r="1.8"/>
<circle cx="517.6" cy="186.4" r="1.8"/>
<circle cx="520.3" cy="187.8" r="1.8"/>
<circle cx="503.5" cy="189.8" r="1.8"/>
<circle cx="506.9" cy="189.1" r="1.8"/>
<circle cx="509.5" cy="188.4" r="1.8"/>
<circle cx="512.2" cy="189.8" r="1.8"/>
<circle cx="514.9" cy="189.1" r="1.8"/>
<circle cx="517.6" cy="190.5" r="1.8"/>
<circle cx="500.1" cy="193.1" r="1.8"/>
<circle cx="503.5" cy="192.5" r="1.8"/>
<circle cx="506.2" cy="193.1" r="1.8"/>
<circle cx="508.9" cy="192.5" r="1.8"/>
<circle cx="511.6" cy="193.1" r="1.8"/>
<circle cx="514.2" cy="193.8" r="1.8"/>
<circle cx="523.6" cy="192.9" r="1.8"/>
<circle cx="525.7" cy="197.2" r="1.8"/>
<circle cx="490.7" cy="196.5" r="1.8"/>
<circle cx="493.4" cy="197.8" r="1.8"/>
<circle cx="496.8" cy="198.5" r="1.8"/>
<circle cx="500.1" cy="197.8" r="1.8"/>
<circle cx="503.5" cy="197.2" r="1.8"/>
<circle cx="506.9" cy="196.5" r="1.8"/>
<circle cx="509.5" cy="197.2" r="1.8"/>
<circle cx="512.2" cy="196.5" r="1.8"/>
<circle cx="518.9" cy="198.8" r="1.8"/>
<circle cx="489.4" cy="203.6" r="1.8"/>
<circle cx="492.8" cy="201.9" r="1.8"/>
<circle cx="495.4" cy="200.5" r="1.8"/>
<circle cx="498.1" cy="199.9" r="1.8"/>
<circle cx="500.8" cy="201.2" r="1.8"/>
<circle cx="503.5" cy="200.5" r="1.8"/>
<circle cx="506.2" cy="199.9" r="1.8"/>
<circle cx="508.9" cy="200.5" r="1.8"/>
<circle cx="511.6" cy="201.2" r="1.8"/>
<circle cx="514.2" cy="201.9" r="1.8"/>
<circle cx="521.0" cy="203.2" r="1.8"/>
<circle cx="493.4" cy="205.2" r="1.8"/>
<circle cx="496.1" cy="204.6" r="1.8"/>
<circle cx="498.8" cy="203.9" r="1.8"/>
<circle cx="501.5" cy="205.2" r="1.8"/>
<circle cx="504.2" cy="204.6" r="1.8"/>
<circle cx="506.9" cy="203.9" r="1.8"/>
<circle cx="509.5" cy="203.2" r="1.8"/>
<circle cx="512.2" cy="203.9" r="1.8"/>
<circle cx="514.9" cy="205.2" r="1.8"/>
<circle cx="517.6" cy="207.9" r="1.8"/>
<circle cx="488.1" cy="209.3" r="1.8"/>
<circle cx="490.7" cy="208.6" r="1.8"/>
<circle cx="493.4" cy="209.3" r="1.8"/>
<circle cx="496.1" cy="208.2" r="1.8"/>
<circle cx="498.8" cy="208.6" r="1.8"/>
<circle cx="501.5" cy="207.9" r="1.8"/>
<circle cx="504.2" cy="208.6" r="1.8"/>
<circle cx="506.9" cy="207.9" r="1.8"/>
<circle cx="509.5" cy="207.2" r="1.8"/>
<circle cx="492.1" cy="211.9" r="1.8"/>
<circle cx="495.4" cy="212.6" r="1.8"/>
<circle cx="501.5" cy="212.6" r="1.8"/>
<circle cx="504.8" cy="213.0" r="1.8"/>
<circle cx="507.5" cy="213.3" r="1.8"/>
<circle cx="512.2" cy="211.3" r="1.8"/>
<circle cx="521.0" cy="212.2" r="1.8"/>
<circle cx="511.4" cy="187.9" r="1.8"/>
<circle cx="513.5" cy="176.8" r="1.8"/>
<circle cx="509.6" cy="187.4" r="1.8"/>
<circle cx="518.1" cy="182.3" r="1.8"/>
<circle cx="505.4" cy="184.3" r="1.8"/>
<circle cx="516.4" cy="180.1" r="1.8"/>
<circle cx="520.3" cy="177.7" r="1.8"/>
<circle cx="511.8" cy="181.8" r="1.8"/>
<circle cx="518.1" cy="170.7" r="1.8"/>
<circle cx="507.0" cy="182.9" r="1.8"/>
<circle cx="513.8" cy="181.9" r="1.8"/>
<circle cx="511.9" cy="183.3" r="1.8"/>
<circle cx="516.2" cy="182.3" r="1.8"/>
<circle cx="516.4" cy="177.9" r="1.8"/>
<circle cx="511.3" cy="190.9" r="1.8"/>
<circle cx="509.0" cy="187.5" r="1.8"/>
<circle cx="509.5" cy="188.1" r="1.8"/>
<circle cx="511.9" cy="185.7" r="1.8"/>
<circle cx="520.7" cy="168.2" r="1.8"/>
<circle cx="510.2" cy="175.7" r="1.8"/>
<circle cx="504.1" cy="199.8" r="1.8"/>
<circle cx="509.6" cy="197.5" r="1.8"/>
<circle cx="497.0" cy="209.9" r="1.8"/>
<circle cx="506.2" cy="203.6" r="1.8"/>
<circle cx="499.3" cy="206.5" r="1.8"/>
<circle cx="498.0" cy="202.1" r="1.8"/>
<circle cx="499.9" cy="207.0" r="1.8"/>
<circle cx="507.8" cy="206.7" r="1.8"/>
<circle cx="507.2" cy="198.4" r="1.8"/>
<circle cx="503.5" cy="199.3" r="1.8"/>
<circle cx="502.0" cy="200.5" r="1.8"/>
<circle cx="496.0" cy="205.3" r="1.8"/>
<circle cx="508.7" cy="194.6" r="1.8"/>
<circle cx="505.9" cy="202.5" r="1.8"/>
<circle cx="498.8" cy="206.2" r="1.8"/>
<circle cx="508.7" cy="209.9" r="1.8"/>
<circle cx="504.1" cy="202.1" r="1.8"/>
<circle cx="512.7" cy="198.2" r="1.8"/>
<circle cx="515.2" cy="193.2" r="1.8"/>
<circle cx="496.3" cy="200.5" r="1.8"/>
<circle cx="495.4" cy="207.9" r="1.8"/>
<circle cx="504.3" cy="200.7" r="1.8"/>
<circle cx="495.9" cy="201.0" r="1.8"/>
<circle cx="512.0" cy="203.7" r="1.8"/>
<circle cx="515.8" cy="205.1" r="1.8"/>
<circle cx="501.7" cy="199.2" r="1.8"/>
<circle cx="500.8" cy="206.3" r="1.8"/>
<circle cx="494.0" cy="199.9" r="1.8"/>
<circle cx="511.9" cy="203.7" r="1.8"/>
<line class="dg" x1="486.43" y1="214.05" x2="564.97" y2="141.15"/>
<rect class="sp" x="482.50" y="137.50" width="86.40" height="80.20"/>
<line class="tk" x1="506.50" y1="217.70" x2="506.50" y2="219.78"/>
<text x="506.50" y="227.20" font-size="6.70" text-anchor="middle" textLength="3.77" lengthAdjust="spacingAndGlyphs" class="k">0</text>
<line class="tk" x1="540.50" y1="217.70" x2="540.50" y2="219.78"/>
<text x="540.50" y="227.20" font-size="6.70" text-anchor="middle" textLength="3.77" lengthAdjust="spacingAndGlyphs" class="k">2</text>
<line class="tk" x1="480.42" y1="210.50" x2="482.50" y2="210.50"/>
<text x="478.34" y="213.10" font-size="6.70" text-anchor="end" textLength="8.74" lengthAdjust="spacingAndGlyphs" class="k">−1</text>
<line class="tk" x1="480.42" y1="195.50" x2="482.50" y2="195.50"/>
<text x="478.34" y="198.10" font-size="6.70" text-anchor="end" textLength="3.77" lengthAdjust="spacingAndGlyphs" class="k">0</text>
<line class="tk" x1="480.42" y1="179.50" x2="482.50" y2="179.50"/>
<text x="478.34" y="182.10" font-size="6.70" text-anchor="end" textLength="3.77" lengthAdjust="spacingAndGlyphs" class="k">1</text>
<line class="tk" x1="480.42" y1="163.50" x2="482.50" y2="163.50"/>
<text x="478.34" y="166.10" font-size="6.70" text-anchor="end" textLength="3.77" lengthAdjust="spacingAndGlyphs" class="k">2</text>
<line class="tk" x1="480.42" y1="148.50" x2="482.50" y2="148.50"/>
<text x="478.34" y="151.10" font-size="6.70" text-anchor="end" textLength="3.77" lengthAdjust="spacingAndGlyphs" class="k">3</text>
<text x="525.70" y="127.40" font-size="6.35" text-anchor="middle" textLength="60.21" lengthAdjust="spacingAndGlyphs">Mo98_leaf (Sweden)</text>
<text x="525.70" y="133.60" font-size="6.35" text-anchor="middle" textLength="24.39" lengthAdjust="spacingAndGlyphs">r=0.506</text>
<text x="525.70" y="235.10" font-size="5.71" text-anchor="middle" textLength="26.50" lengthAdjust="spacingAndGlyphs" class="l">Prediction</text>
<text x="0.00" y="0.00" font-size="5.71" text-anchor="middle" textLength="14.41" lengthAdjust="spacingAndGlyphs" class="l" transform="translate(465.84 178.10) rotate(-90)">Label</text>
<line class="gr" x1="618.50" y1="137.50" x2="618.50" y2="217.70"/>
<line class="gr" x1="640.50" y1="137.50" x2="640.50" y2="217.70"/>
<line class="gr" x1="663.50" y1="137.50" x2="663.50" y2="217.70"/>
<line class="gr" x1="597.50" y1="198.50" x2="683.90" y2="198.50"/>
<line class="gr" x1="597.50" y1="177.50" x2="683.90" y2="177.50"/>
<line class="gr" x1="597.50" y1="156.50" x2="683.90" y2="156.50"/>
<circle cx="639.1" cy="140.8" r="1.8"/>
<circle cx="673.3" cy="143.7" r="1.8"/>
<circle cx="662.4" cy="146.0" r="1.8"/>
<circle cx="653.2" cy="148.7" r="1.8"/>
<circle cx="650.8" cy="150.8" r="1.8"/>
<circle cx="648.1" cy="152.9" r="1.8"/>
<circle cx="657.2" cy="152.1" r="1.8"/>
<circle cx="651.7" cy="154.9" r="1.8"/>
<circle cx="651.2" cy="156.5" r="1.8"/>
<circle cx="655.5" cy="156.5" r="1.8"/>
<circle cx="670.6" cy="156.2" r="1.8"/>
<circle cx="643.1" cy="157.8" r="1.8"/>
<circle cx="648.1" cy="160.9" r="1.8"/>
<circle cx="645.4" cy="162.5" r="1.8"/>
<circle cx="656.1" cy="161.2" r="1.8"/>
<circle cx="652.8" cy="164.1" r="1.8"/>
<circle cx="665.5" cy="163.2" r="1.8"/>
<circle cx="672.9" cy="163.5" r="1.8"/>
<circle cx="638.4" cy="165.2" r="1.8"/>
<circle cx="631.1" cy="168.3" r="1.8"/>
<circle cx="647.4" cy="167.6" r="1.8"/>
<circle cx="657.1" cy="166.8" r="1.8"/>
<circle cx="662.2" cy="167.6" r="1.8"/>
<circle cx="637.3" cy="172.3" r="1.8"/>
<circle cx="642.7" cy="173.3" r="1.8"/>
<circle cx="648.7" cy="174.4" r="1.8"/>
<circle cx="658.5" cy="172.6" r="1.8"/>
<circle cx="661.5" cy="176.9" r="1.8"/>
<circle cx="675.2" cy="176.6" r="1.8"/>
<circle cx="640.0" cy="177.3" r="1.8"/>
<circle cx="644.0" cy="178.0" r="1.8"/>
<circle cx="645.4" cy="180.0" r="1.8"/>
<circle cx="639.3" cy="181.3" r="1.8"/>
<circle cx="646.1" cy="182.0" r="1.8"/>
<circle cx="652.1" cy="181.6" r="1.8"/>
<circle cx="641.4" cy="182.4" r="1.8"/>
<circle cx="646.1" cy="185.1" r="1.8"/>
<circle cx="636.0" cy="185.8" r="1.8"/>
<circle cx="632.6" cy="186.8" r="1.8"/>
<circle cx="627.9" cy="185.4" r="1.8"/>
<circle cx="625.2" cy="187.1" r="1.8"/>
<circle cx="623.9" cy="187.5" r="1.8"/>
<circle cx="622.8" cy="191.1" r="1.8"/>
<circle cx="631.5" cy="195.4" r="1.8"/>
<circle cx="637.7" cy="195.8" r="1.8"/>
<circle cx="648.1" cy="192.9" r="1.8"/>
<circle cx="651.0" cy="194.5" r="1.8"/>
<circle cx="647.4" cy="197.2" r="1.8"/>
<circle cx="642.0" cy="204.6" r="1.8"/>
<circle cx="648.5" cy="208.6" r="1.8"/>
<circle cx="634.9" cy="214.0" r="1.8"/>
<line class="dg" x1="601.43" y1="214.05" x2="679.97" y2="141.15"/>
<rect class="sp" x="597.50" y="137.50" width="86.40" height="80.20"/>
<line class="tk" x1="618.50" y1="217.70" x2="618.50" y2="219.78"/>
<text x="618.50" y="227.20" font-size="6.70" text-anchor="middle" textLength="8.74" lengthAdjust="spacingAndGlyphs" class="k">−1</text>
<line class="tk" x1="640.50" y1="217.70" x2="640.50" y2="219.78"/>
<text x="640.50" y="227.20" font-size="6.70" text-anchor="middle" textLength="3.77" lengthAdjust="spacingAndGlyphs" class="k">0</text>
<line class="tk" x1="663.50" y1="217.70" x2="663.50" y2="219.78"/>
<text x="663.50" y="227.20" font-size="6.70" text-anchor="middle" textLength="3.77" lengthAdjust="spacingAndGlyphs" class="k">1</text>
<line class="tk" x1="595.42" y1="198.50" x2="597.50" y2="198.50"/>
<text x="593.34" y="201.10" font-size="6.70" text-anchor="end" textLength="8.74" lengthAdjust="spacingAndGlyphs" class="k">−1</text>
<line class="tk" x1="595.42" y1="177.50" x2="597.50" y2="177.50"/>
<text x="593.34" y="180.10" font-size="6.70" text-anchor="end" textLength="3.77" lengthAdjust="spacingAndGlyphs" class="k">0</text>
<line class="tk" x1="595.42" y1="156.50" x2="597.50" y2="156.50"/>
<text x="593.34" y="159.10" font-size="6.70" text-anchor="end" textLength="3.77" lengthAdjust="spacingAndGlyphs" class="k">1</text>
<text x="640.70" y="127.40" font-size="6.35" text-anchor="middle" textLength="42.48" lengthAdjust="spacingAndGlyphs">Sr88_leaf (UK)</text>
<text x="640.70" y="133.60" font-size="6.35" text-anchor="middle" textLength="24.39" lengthAdjust="spacingAndGlyphs">r=0.502</text>
<text x="640.70" y="235.10" font-size="5.71" text-anchor="middle" textLength="26.50" lengthAdjust="spacingAndGlyphs" class="l">Prediction</text>
<text x="0.00" y="0.00" font-size="5.71" text-anchor="middle" textLength="14.41" lengthAdjust="spacingAndGlyphs" class="l" transform="translate(580.84 178.10) rotate(-90)">Label</text>
<line class="gr" x1="46.50" y1="258.40" x2="46.50" y2="339.20"/>
<line class="gr" x1="76.50" y1="258.40" x2="76.50" y2="339.20"/>
<line class="gr" x1="106.50" y1="258.40" x2="106.50" y2="339.20"/>
<line class="gr" x1="22.50" y1="331.50" x2="108.90" y2="331.50"/>
<line class="gr" x1="22.50" y1="317.50" x2="108.90" y2="317.50"/>
<line class="gr" x1="22.50" y1="302.50" x2="108.90" y2="302.50"/>
<line class="gr" x1="22.50" y1="288.50" x2="108.90" y2="288.50"/>
<line class="gr" x1="22.50" y1="274.50" x2="108.90" y2="274.50"/>
<line class="gr" x1="22.50" y1="260.50" x2="108.90" y2="260.50"/>
<circle cx="62.7" cy="262.0" r="1.8"/>
<circle cx="37.2" cy="269.0" r="1.8"/>
<circle cx="70.8" cy="266.5" r="1.8"/>
<circle cx="54.7" cy="273.7" r="1.8"/>
<circle cx="58.7" cy="272.4" r="1.8"/>
<circle cx="62.3" cy="276.8" r="1.8"/>
<circle cx="43.9" cy="281.5" r="1.8"/>
<circle cx="63.0" cy="280.8" r="1.8"/>
<circle cx="60.0" cy="284.9" r="1.8"/>
<circle cx="67.3" cy="282.9" r="1.8"/>
<circle cx="65.0" cy="285.5" r="1.8"/>
<circle cx="68.4" cy="284.9" r="1.8"/>
<circle cx="72.4" cy="286.9" r="1.8"/>
<circle cx="74.4" cy="288.0" r="1.8"/>
<circle cx="55.2" cy="287.6" r="1.8"/>
<circle cx="48.2" cy="291.2" r="1.8"/>
<circle cx="52.2" cy="292.3" r="1.8"/>
<circle cx="55.6" cy="290.7" r="1.8"/>
<circle cx="59.6" cy="290.2" r="1.8"/>
<circle cx="62.3" cy="291.6" r="1.8"/>
<circle cx="64.3" cy="290.2" r="1.8"/>
<circle cx="69.0" cy="291.6" r="1.8"/>
<circle cx="72.4" cy="291.2" r="1.8"/>
<circle cx="75.7" cy="291.2" r="1.8"/>
<circle cx="84.7" cy="295.6" r="1.8"/>
<circle cx="46.6" cy="294.7" r="1.8"/>
<circle cx="52.9" cy="294.9" r="1.8"/>
<circle cx="56.3" cy="293.6" r="1.8"/>
<circle cx="58.9" cy="294.9" r="1.8"/>
<circle cx="61.6" cy="294.3" r="1.8"/>
<circle cx="67.7" cy="294.9" r="1.8"/>
<circle cx="71.7" cy="294.9" r="1.8"/>
<circle cx="46.2" cy="300.1" r="1.8"/>
<circle cx="49.5" cy="298.7" r="1.8"/>
<circle cx="52.9" cy="297.6" r="1.8"/>
<circle cx="56.3" cy="299.0" r="1.8"/>
<circle cx="60.3" cy="298.3" r="1.8"/>
<circle cx="64.3" cy="299.0" r="1.8"/>
<circle cx="71.0" cy="299.2" r="1.8"/>
<circle cx="66.3" cy="302.3" r="1.8"/>
<circle cx="48.2" cy="302.3" r="1.8"/>
<circle cx="54.9" cy="302.3" r="1.8"/>
<circle cx="58.9" cy="302.3" r="1.8"/>
<circle cx="52.2" cy="299.4" r="1.8"/>
<circle cx="58.9" cy="299.4" r="1.8"/>
<circle cx="63.0" cy="300.7" r="1.8"/>
<circle cx="40.8" cy="306.1" r="1.8"/>
<circle cx="44.2" cy="306.8" r="1.8"/>
<circle cx="48.2" cy="304.7" r="1.8"/>
<circle cx="52.2" cy="305.4" r="1.8"/>
<circle cx="56.3" cy="304.7" r="1.8"/>
<circle cx="60.3" cy="304.1" r="1.8"/>
<circle cx="64.3" cy="306.1" r="1.8"/>
<circle cx="67.7" cy="307.4" r="1.8"/>
<circle cx="67.7" cy="310.1" r="1.8"/>
<circle cx="83.1" cy="311.2" r="1.8"/>
<circle cx="39.5" cy="310.8" r="1.8"/>
<circle cx="42.2" cy="311.5" r="1.8"/>
<circle cx="44.8" cy="312.8" r="1.8"/>
<circle cx="47.5" cy="310.8" r="1.8"/>
<circle cx="50.2" cy="309.4" r="1.8"/>
<circle cx="53.6" cy="308.8" r="1.8"/>
<circle cx="57.6" cy="310.1" r="1.8"/>
<circle cx="60.3" cy="311.5" r="1.8"/>
<circle cx="63.0" cy="312.8" r="1.8"/>
<circle cx="37.5" cy="315.5" r="1.8"/>
<circle cx="40.8" cy="315.5" r="1.8"/>
<circle cx="44.2" cy="314.1" r="1.8"/>
<circle cx="48.2" cy="315.5" r="1.8"/>
<circle cx="51.6" cy="314.8" r="1.8"/>
<circle cx="54.9" cy="314.1" r="1.8"/>
<circle cx="58.3" cy="314.8" r="1.8"/>
<circle cx="60.3" cy="316.8" r="1.8"/>
<circle cx="36.1" cy="319.5" r="1.8"/>
<circle cx="38.8" cy="320.2" r="1.8"/>
<circle cx="42.2" cy="318.8" r="1.8"/>
<circle cx="45.5" cy="318.2" r="1.8"/>
<circle cx="48.9" cy="318.8" r="1.8"/>
<circle cx="52.2" cy="319.5" r="1.8"/>
<circle cx="64.3" cy="319.8" r="1.8"/>
<circle cx="37.5" cy="322.2" r="1.8"/>
<circle cx="40.1" cy="323.5" r="1.8"/>
<circle cx="43.5" cy="322.9" r="1.8"/>
<circle cx="46.9" cy="321.5" r="1.8"/>
<circle cx="50.2" cy="322.2" r="1.8"/>
<circle cx="53.6" cy="321.5" r="1.8"/>
<circle cx="58.9" cy="322.9" r="1.8"/>
<circle cx="60.3" cy="325.6" r="1.8"/>
<circle cx="38.8" cy="326.2" r="1.8"/>
<circle cx="42.2" cy="326.2" r="1.8"/>
<circle cx="45.5" cy="327.6" r="1.8"/>
<circle cx="48.9" cy="326.2" r="1.8"/>
<circle cx="52.2" cy="325.6" r="1.8"/>
<circle cx="55.6" cy="326.2" r="1.8"/>
<circle cx="58.3" cy="326.9" r="1.8"/>
<circle cx="61.6" cy="328.2" r="1.8"/>
<circle cx="38.8" cy="331.6" r="1.8"/>
<circle cx="42.2" cy="330.3" r="1.8"/>
<circle cx="46.2" cy="329.6" r="1.8"/>
<circle cx="49.5" cy="329.6" r="1.8"/>
<circle cx="54.9" cy="329.6" r="1.8"/>
<circle cx="44.2" cy="333.6" r="1.8"/>
<circle cx="46.9" cy="334.3" r="1.8"/>
<circle cx="42.8" cy="335.6" r="1.8"/>
<circle cx="58.9" cy="332.9" r="1.8"/>
<circle cx="53.6" cy="332.3" r="1.8"/>
<circle cx="51.0" cy="322.0" r="1.8"/>
<circle cx="37.4" cy="317.2" r="1.8"/>
<circle cx="49.2" cy="318.3" r="1.8"/>
<circle cx="49.3" cy="317.5" r="1.8"/>
<circle cx="44.0" cy="317.0" r="1.8"/>
<circle cx="43.4" cy="320.7" r="1.8"/>
<circle cx="48.6" cy="321.8" r="1.8"/>
<circle cx="44.2" cy="312.0" r="1.8"/>
<circle cx="48.7" cy="314.6" r="1.8"/>
<circle cx="55.3" cy="316.5" r="1.8"/>
<circle cx="42.3" cy="311.0" r="1.8"/>
<circle cx="43.3" cy="311.1" r="1.8"/>
<circle cx="49.3" cy="309.2" r="1.8"/>
<circle cx="52.4" cy="323.1" r="1.8"/>
<circle cx="41.3" cy="325.7" r="1.8"/>
<circle cx="41.6" cy="321.3" r="1.8"/>
<circle cx="46.6" cy="323.0" r="1.8"/>
<circle cx="47.0" cy="320.0" r="1.8"/>
<circle cx="42.8" cy="310.7" r="1.8"/>
<circle cx="50.3" cy="310.9" r="1.8"/>
<circle cx="39.2" cy="323.6" r="1.8"/>
<circle cx="53.0" cy="316.3" r="1.8"/>
<circle cx="44.9" cy="321.1" r="1.8"/>
<circle cx="51.1" cy="319.2" r="1.8"/>
<circle cx="49.7" cy="320.8" r="1.8"/>
<circle cx="41.4" cy="320.0" r="1.8"/>
<circle cx="51.4" cy="316.5" r="1.8"/>
<circle cx="48.7" cy="319.5" r="1.8"/>
<circle cx="50.1" cy="318.7" r="1.8"/>
<circle cx="52.2" cy="313.8" r="1.8"/>
<circle cx="65.0" cy="288.3" r="1.8"/>
<circle cx="59.5" cy="294.9" r="1.8"/>
<circle cx="58.0" cy="297.2" r="1.8"/>
<circle cx="59.9" cy="288.0" r="1.8"/>
<circle cx="62.1" cy="298.3" r="1.8"/>
<circle cx="58.4" cy="298.0" r="1.8"/>
<circle cx="59.0" cy="298.9" r="1.8"/>
<circle cx="56.1" cy="304.5" r="1.8"/>
<circle cx="59.3" cy="294.7" r="1.8"/>
<circle cx="61.6" cy="303.6" r="1.8"/>
<line class="dg" x1="26.43" y1="335.53" x2="104.97" y2="262.07"/>
<rect class="sp" x="22.50" y="258.40" width="86.40" height="80.80"/>
<line class="tk" x1="46.50" y1="339.20" x2="46.50" y2="341.28"/>
<text x="46.50" y="348.70" font-size="6.70" text-anchor="middle" textLength="3.77" lengthAdjust="spacingAndGlyphs" class="k">0</text>
<line class="tk" x1="76.50" y1="339.20" x2="76.50" y2="341.28"/>
<text x="76.50" y="348.70" font-size="6.70" text-anchor="middle" textLength="3.77" lengthAdjust="spacingAndGlyphs" class="k">2</text>
<line class="tk" x1="106.50" y1="339.20" x2="106.50" y2="341.28"/>
<text x="106.50" y="348.70" font-size="6.70" text-anchor="middle" textLength="3.77" lengthAdjust="spacingAndGlyphs" class="k">4</text>
<line class="tk" x1="20.42" y1="331.50" x2="22.50" y2="331.50"/>
<text x="18.34" y="334.10" font-size="6.70" text-anchor="end" textLength="8.74" lengthAdjust="spacingAndGlyphs" class="k">−1</text>
<line class="tk" x1="20.42" y1="317.50" x2="22.50" y2="317.50"/>
<text x="18.34" y="320.10" font-size="6.70" text-anchor="end" textLength="3.77" lengthAdjust="spacingAndGlyphs" class="k">0</text>
<line class="tk" x1="20.42" y1="302.50" x2="22.50" y2="302.50"/>
<text x="18.34" y="305.10" font-size="6.70" text-anchor="end" textLength="3.77" lengthAdjust="spacingAndGlyphs" class="k">1</text>
<line class="tk" x1="20.42" y1="288.50" x2="22.50" y2="288.50"/>
<text x="18.34" y="291.10" font-size="6.70" text-anchor="end" textLength="3.77" lengthAdjust="spacingAndGlyphs" class="k">2</text>
<line class="tk" x1="20.42" y1="274.50" x2="22.50" y2="274.50"/>
<text x="18.34" y="277.10" font-size="6.70" text-anchor="end" textLength="3.77" lengthAdjust="spacingAndGlyphs" class="k">3</text>
<line class="tk" x1="20.42" y1="260.50" x2="22.50" y2="260.50"/>
<text x="18.34" y="263.10" font-size="6.70" text-anchor="end" textLength="3.77" lengthAdjust="spacingAndGlyphs" class="k">4</text>
<text x="65.70" y="248.30" font-size="6.35" text-anchor="middle" textLength="55.16" lengthAdjust="spacingAndGlyphs">Se82_seed (Spain)</text>
<text x="65.70" y="254.50" font-size="6.35" text-anchor="middle" textLength="24.39" lengthAdjust="spacingAndGlyphs">r=0.497</text>
<text x="65.70" y="356.60" font-size="5.71" text-anchor="middle" textLength="26.50" lengthAdjust="spacingAndGlyphs" class="l">Prediction</text>
<text x="0.00" y="0.00" font-size="5.71" text-anchor="middle" textLength="14.41" lengthAdjust="spacingAndGlyphs" class="l" transform="translate(5.84 299.30) rotate(-90)">Label</text>
<line class="gr" x1="141.50" y1="258.40" x2="141.50" y2="339.20"/>
<line class="gr" x1="170.50" y1="258.40" x2="170.50" y2="339.20"/>
<line class="gr" x1="200.50" y1="258.40" x2="200.50" y2="339.20"/>
<line class="gr" x1="137.50" y1="335.50" x2="223.90" y2="335.50"/>
<line class="gr" x1="137.50" y1="322.50" x2="223.90" y2="322.50"/>
<line class="gr" x1="137.50" y1="308.50" x2="223.90" y2="308.50"/>
<line class="gr" x1="137.50" y1="294.50" x2="223.90" y2="294.50"/>
<line class="gr" x1="137.50" y1="280.50" x2="223.90" y2="280.50"/>
<line class="gr" x1="137.50" y1="266.50" x2="223.90" y2="266.50"/>
<circle cx="187.1" cy="262.0" r="1.8"/>
<circle cx="178.2" cy="264.3" r="1.8"/>
<circle cx="167.2" cy="276.1" r="1.8"/>
<circle cx="180.4" cy="278.6" r="1.8"/>
<circle cx="191.1" cy="277.5" r="1.8"/>
<circle cx="187.4" cy="281.5" r="1.8"/>
<circle cx="185.8" cy="287.3" r="1.8"/>
<circle cx="188.1" cy="289.3" r="1.8"/>
<circle cx="174.9" cy="292.0" r="1.8"/>
<circle cx="178.0" cy="292.0" r="1.8"/>
<circle cx="183.6" cy="291.2" r="1.8"/>
<circle cx="188.7" cy="292.3" r="1.8"/>
<circle cx="189.4" cy="293.3" r="1.8"/>
<circle cx="181.3" cy="294.3" r="1.8"/>
<circle cx="185.4" cy="294.9" r="1.8"/>
<circle cx="152.2" cy="295.6" r="1.8"/>
<circle cx="161.9" cy="294.9" r="1.8"/>
<circle cx="174.6" cy="296.0" r="1.8"/>
<circle cx="170.2" cy="297.9" r="1.8"/>
<circle cx="173.9" cy="299.0" r="1.8"/>
<circle cx="173.3" cy="300.3" r="1.8"/>
<circle cx="190.5" cy="299.6" r="1.8"/>
<circle cx="189.4" cy="301.7" r="1.8"/>
<circle cx="168.6" cy="303.7" r="1.8"/>
<circle cx="171.9" cy="303.3" r="1.8"/>
<circle cx="176.6" cy="304.1" r="1.8"/>
<circle cx="175.0" cy="307.4" r="1.8"/>
<circle cx="173.7" cy="306.8" r="1.8"/>
<circle cx="175.3" cy="309.4" r="1.8"/>
<circle cx="162.1" cy="309.7" r="1.8"/>
<circle cx="176.6" cy="311.5" r="1.8"/>
<circle cx="178.0" cy="313.5" r="1.8"/>
<circle cx="181.3" cy="314.4" r="1.8"/>
<circle cx="179.3" cy="314.8" r="1.8"/>
<circle cx="186.0" cy="311.2" r="1.8"/>
<circle cx="188.5" cy="309.4" r="1.8"/>
<circle cx="166.6" cy="314.1" r="1.8"/>
<circle cx="169.2" cy="313.5" r="1.8"/>
<circle cx="167.9" cy="314.8" r="1.8"/>
<circle cx="171.9" cy="318.8" r="1.8"/>
<circle cx="170.6" cy="319.5" r="1.8"/>
<circle cx="166.6" cy="320.6" r="1.8"/>
<circle cx="168.8" cy="323.5" r="1.8"/>
<circle cx="163.5" cy="324.5" r="1.8"/>
<circle cx="163.2" cy="330.0" r="1.8"/>
<circle cx="161.9" cy="335.4" r="1.8"/>
<circle cx="174.3" cy="291.9" r="1.8"/>
<circle cx="168.6" cy="304.3" r="1.8"/>
<circle cx="167.5" cy="313.4" r="1.8"/>
<circle cx="189.0" cy="292.0" r="1.8"/>
<circle cx="185.0" cy="313.0" r="1.8"/>
<circle cx="173.0" cy="298.0" r="1.8"/>
<line class="dg" x1="141.43" y1="335.53" x2="219.97" y2="262.07"/>
<rect class="sp" x="137.50" y="258.40" width="86.40" height="80.80"/>
<line class="tk" x1="141.50" y1="339.20" x2="141.50" y2="341.28"/>
<text x="141.50" y="348.70" font-size="6.70" text-anchor="middle" textLength="8.74" lengthAdjust="spacingAndGlyphs" class="k">−2</text>
<line class="tk" x1="170.50" y1="339.20" x2="170.50" y2="341.28"/>
<text x="170.50" y="348.70" font-size="6.70" text-anchor="middle" textLength="3.77" lengthAdjust="spacingAndGlyphs" class="k">0</text>
<line class="tk" x1="200.50" y1="339.20" x2="200.50" y2="341.28"/>
<text x="200.50" y="348.70" font-size="6.70" text-anchor="middle" textLength="3.77" lengthAdjust="spacingAndGlyphs" class="k">2</text>
<line class="tk" x1="135.42" y1="335.50" x2="137.50" y2="335.50"/>
<text x="133.34" y="338.10" font-size="6.70" text-anchor="end" textLength="8.74" lengthAdjust="spacingAndGlyphs" class="k">−2</text>
<line class="tk" x1="135.42" y1="322.50" x2="137.50" y2="322.50"/>
<text x="133.34" y="325.10" font-size="6.70" text-anchor="end" textLength="8.74" lengthAdjust="spacingAndGlyphs" class="k">−1</text>
<line class="tk" x1="135.42" y1="308.50" x2="137.50" y2="308.50"/>
<text x="133.34" y="311.10" font-size="6.70" text-anchor="end" textLength="3.77" lengthAdjust="spacingAndGlyphs" class="k">0</text>
<line class="tk" x1="135.42" y1="294.50" x2="137.50" y2="294.50"/>
<text x="133.34" y="297.10" font-size="6.70" text-anchor="end" textLength="3.77" lengthAdjust="spacingAndGlyphs" class="k">1</text>
<line class="tk" x1="135.42" y1="280.50" x2="137.50" y2="280.50"/>
<text x="133.34" y="283.10" font-size="6.70" text-anchor="end" textLength="3.77" lengthAdjust="spacingAndGlyphs" class="k">2</text>
<line class="tk" x1="135.42" y1="266.50" x2="137.50" y2="266.50"/>
<text x="133.34" y="269.10" font-size="6.70" text-anchor="end" textLength="3.77" lengthAdjust="spacingAndGlyphs" class="k">3</text>
<text x="180.70" y="248.30" font-size="6.35" text-anchor="middle" textLength="51.41" lengthAdjust="spacingAndGlyphs">Li7_seed (Russia)</text>
<text x="180.70" y="254.50" font-size="6.35" text-anchor="middle" textLength="24.39" lengthAdjust="spacingAndGlyphs">r=0.482</text>
<text x="180.70" y="356.60" font-size="5.71" text-anchor="middle" textLength="26.50" lengthAdjust="spacingAndGlyphs" class="l">Prediction</text>
<text x="0.00" y="0.00" font-size="5.71" text-anchor="middle" textLength="14.41" lengthAdjust="spacingAndGlyphs" class="l" transform="translate(120.84 299.30) rotate(-90)">Label</text>
<line class="gr" x1="252.50" y1="258.40" x2="252.50" y2="339.20"/>
<line class="gr" x1="277.50" y1="258.40" x2="277.50" y2="339.20"/>
<line class="gr" x1="303.50" y1="258.40" x2="303.50" y2="339.20"/>
<line class="gr" x1="328.50" y1="258.40" x2="328.50" y2="339.20"/>
<line class="gr" x1="252.50" y1="334.50" x2="338.90" y2="334.50"/>
<line class="gr" x1="252.50" y1="315.50" x2="338.90" y2="315.50"/>
<line class="gr" x1="252.50" y1="296.50" x2="338.90" y2="296.50"/>
<line class="gr" x1="252.50" y1="277.50" x2="338.90" y2="277.50"/>
<line class="gr" x1="252.50" y1="258.50" x2="338.90" y2="258.50"/>
<circle cx="282.9" cy="262.0" r="1.8"/>
<circle cx="284.0" cy="290.2" r="1.8"/>
<circle cx="277.8" cy="295.9" r="1.8"/>
<circle cx="276.9" cy="303.0" r="1.8"/>
<circle cx="278.2" cy="307.4" r="1.8"/>
<circle cx="277.5" cy="310.1" r="1.8"/>
<circle cx="278.9" cy="310.8" r="1.8"/>
<circle cx="284.7" cy="306.4" r="1.8"/>
<circle cx="288.3" cy="310.8" r="1.8"/>
<circle cx="270.1" cy="312.5" r="1.8"/>
<circle cx="273.5" cy="314.1" r="1.8"/>
<circle cx="276.2" cy="315.5" r="1.8"/>
<circle cx="278.9" cy="314.1" r="1.8"/>
<circle cx="283.6" cy="312.8" r="1.8"/>
<circle cx="285.6" cy="315.5" r="1.8"/>
<circle cx="280.2" cy="317.5" r="1.8"/>
<circle cx="282.2" cy="318.8" r="1.8"/>
<circle cx="284.9" cy="319.5" r="1.8"/>
<circle cx="280.9" cy="320.9" r="1.8"/>
<circle cx="277.5" cy="319.5" r="1.8"/>
<circle cx="267.5" cy="318.8" r="1.8"/>
<circle cx="264.8" cy="321.5" r="1.8"/>
<circle cx="268.1" cy="322.2" r="1.8"/>
<circle cx="270.8" cy="321.5" r="1.8"/>
<circle cx="273.5" cy="320.9" r="1.8"/>
<circle cx="275.5" cy="322.2" r="1.8"/>
<circle cx="265.4" cy="326.2" r="1.8"/>
<circle cx="268.8" cy="325.6" r="1.8"/>
<circle cx="271.5" cy="324.2" r="1.8"/>
<circle cx="274.2" cy="324.9" r="1.8"/>
<circle cx="276.9" cy="326.2" r="1.8"/>
<circle cx="270.1" cy="328.2" r="1.8"/>
<circle cx="272.8" cy="327.6" r="1.8"/>
<circle cx="274.8" cy="329.6" r="1.8"/>
<circle cx="269.5" cy="331.6" r="1.8"/>
<circle cx="273.5" cy="332.3" r="1.8"/>
<circle cx="278.9" cy="330.0" r="1.8"/>
<circle cx="282.0" cy="335.4" r="1.8"/>
<circle cx="271.5" cy="330.3" r="1.8"/>
<circle cx="266.8" cy="326.9" r="1.8"/>
<circle cx="273.2" cy="324.6" r="1.8"/>
<circle cx="272.0" cy="324.6" r="1.8"/>
<circle cx="273.3" cy="324.5" r="1.8"/>
<circle cx="273.0" cy="321.2" r="1.8"/>
<circle cx="271.8" cy="315.4" r="1.8"/>
<circle cx="274.5" cy="325.7" r="1.8"/>
<circle cx="271.5" cy="324.8" r="1.8"/>
<circle cx="274.0" cy="325.8" r="1.8"/>
<circle cx="272.4" cy="320.3" r="1.8"/>
<circle cx="272.3" cy="323.8" r="1.8"/>
<circle cx="273.8" cy="321.7" r="1.8"/>
<circle cx="274.9" cy="325.7" r="1.8"/>
<circle cx="272.8" cy="326.1" r="1.8"/>
<circle cx="271.1" cy="326.9" r="1.8"/>
<circle cx="282.9" cy="318.5" r="1.8"/>
<circle cx="282.7" cy="319.4" r="1.8"/>
<circle cx="282.1" cy="316.6" r="1.8"/>
<circle cx="284.7" cy="318.9" r="1.8"/>
<circle cx="280.3" cy="317.6" r="1.8"/>
<circle cx="279.7" cy="319.2" r="1.8"/>
<line class="dg" x1="256.43" y1="335.53" x2="334.97" y2="262.07"/>
<rect class="sp" x="252.50" y="258.40" width="86.40" height="80.80"/>
<line class="tk" x1="252.50" y1="339.20" x2="252.50" y2="341.28"/>
<text x="252.50" y="348.70" font-size="6.70" text-anchor="middle" textLength="14.40" lengthAdjust="spacingAndGlyphs" class="k">−2.5</text>
<line class="tk" x1="277.50" y1="339.20" x2="277.50" y2="341.28"/>
<text x="277.50" y="348.70" font-size="6.70" text-anchor="middle" textLength="9.43" lengthAdjust="spacingAndGlyphs" class="k">0.0</text>
<line class="tk" x1="303.50" y1="339.20" x2="303.50" y2="341.28"/>
<text x="303.50" y="348.70" font-size="6.70" text-anchor="middle" textLength="9.43" lengthAdjust="spacingAndGlyphs" class="k">2.5</text>
<line class="tk" x1="328.50" y1="339.20" x2="328.50" y2="341.28"/>
<text x="328.50" y="348.70" font-size="6.70" text-anchor="middle" textLength="9.43" lengthAdjust="spacingAndGlyphs" class="k">5.0</text>
<line class="tk" x1="250.42" y1="334.50" x2="252.50" y2="334.50"/>
<text x="248.34" y="337.10" font-size="6.70" text-anchor="end" textLength="8.74" lengthAdjust="spacingAndGlyphs" class="k">−2</text>
<line class="tk" x1="250.42" y1="315.50" x2="252.50" y2="315.50"/>
<text x="248.34" y="318.10" font-size="6.70" text-anchor="end" textLength="3.77" lengthAdjust="spacingAndGlyphs" class="k">0</text>
<line class="tk" x1="250.42" y1="296.50" x2="252.50" y2="296.50"/>
<text x="248.34" y="299.10" font-size="6.70" text-anchor="end" textLength="3.77" lengthAdjust="spacingAndGlyphs" class="k">2</text>
<line class="tk" x1="250.42" y1="277.50" x2="252.50" y2="277.50"/>
<text x="248.34" y="280.10" font-size="6.70" text-anchor="end" textLength="3.77" lengthAdjust="spacingAndGlyphs" class="k">4</text>
<line class="tk" x1="250.42" y1="258.50" x2="252.50" y2="258.50"/>
<text x="248.34" y="261.10" font-size="6.70" text-anchor="end" textLength="3.77" lengthAdjust="spacingAndGlyphs" class="k">6</text>
<text x="295.70" y="248.30" font-size="6.35" text-anchor="middle" textLength="43.41" lengthAdjust="spacingAndGlyphs">As75_leaf (UK)</text>
<text x="295.70" y="254.50" font-size="6.35" text-anchor="middle" textLength="24.39" lengthAdjust="spacingAndGlyphs">r=0.474</text>
<text x="295.70" y="356.60" font-size="5.71" text-anchor="middle" textLength="26.50" lengthAdjust="spacingAndGlyphs" class="l">Prediction</text>
<text x="0.00" y="0.00" font-size="5.71" text-anchor="middle" textLength="14.41" lengthAdjust="spacingAndGlyphs" class="l" transform="translate(235.84 299.30) rotate(-90)">Label</text>
<line class="gr" x1="399.50" y1="258.40" x2="399.50" y2="339.20"/>
<line class="gr" x1="436.50" y1="258.40" x2="436.50" y2="339.20"/>
<line class="gr" x1="367.50" y1="327.50" x2="453.90" y2="327.50"/>
<line class="gr" x1="367.50" y1="309.50" x2="453.90" y2="309.50"/>
<line class="gr" x1="367.50" y1="291.50" x2="453.90" y2="291.50"/>
<line class="gr" x1="367.50" y1="274.50" x2="453.90" y2="274.50"/>
<circle cx="423.8" cy="262.0" r="1.8"/>
<circle cx="420.1" cy="266.7" r="1.8"/>
<circle cx="420.7" cy="269.4" r="1.8"/>
<circle cx="429.2" cy="270.1" r="1.8"/>
<circle cx="422.1" cy="279.8" r="1.8"/>
<circle cx="407.3" cy="281.5" r="1.8"/>
<circle cx="410.4" cy="280.4" r="1.8"/>
<circle cx="411.7" cy="282.6" r="1.8"/>
<circle cx="408.6" cy="284.9" r="1.8"/>
<circle cx="408.6" cy="287.2" r="1.8"/>
<circle cx="418.7" cy="287.2" r="1.8"/>
<circle cx="428.4" cy="287.8" r="1.8"/>
<circle cx="399.0" cy="292.3" r="1.8"/>
<circle cx="403.5" cy="291.6" r="1.8"/>
<circle cx="407.7" cy="291.6" r="1.8"/>
<circle cx="418.7" cy="292.5" r="1.8"/>
<circle cx="410.7" cy="294.3" r="1.8"/>
<circle cx="412.0" cy="295.6" r="1.8"/>
<circle cx="409.3" cy="296.7" r="1.8"/>
<circle cx="418.5" cy="297.9" r="1.8"/>
<circle cx="422.1" cy="297.0" r="1.8"/>
<circle cx="422.5" cy="297.9" r="1.8"/>
<circle cx="394.5" cy="297.4" r="1.8"/>
<circle cx="394.8" cy="299.6" r="1.8"/>
<circle cx="406.6" cy="301.7" r="1.8"/>
<circle cx="415.8" cy="302.6" r="1.8"/>
<circle cx="398.8" cy="303.3" r="1.8"/>
<circle cx="381.8" cy="306.8" r="1.8"/>
<circle cx="414.3" cy="307.0" r="1.8"/>
<circle cx="422.5" cy="306.8" r="1.8"/>
<circle cx="404.4" cy="308.8" r="1.8"/>
<circle cx="396.6" cy="309.8" r="1.8"/>
<circle cx="397.0" cy="312.8" r="1.8"/>
<circle cx="400.6" cy="312.8" r="1.8"/>
<circle cx="403.3" cy="313.9" r="1.8"/>
<circle cx="405.0" cy="314.8" r="1.8"/>
<circle cx="411.7" cy="315.1" r="1.8"/>
<circle cx="421.1" cy="313.9" r="1.8"/>
<circle cx="409.6" cy="319.8" r="1.8"/>
<circle cx="387.8" cy="324.2" r="1.8"/>
<circle cx="393.5" cy="322.6" r="1.8"/>
<circle cx="396.3" cy="321.9" r="1.8"/>
<circle cx="398.6" cy="326.6" r="1.8"/>
<circle cx="401.9" cy="325.8" r="1.8"/>
<circle cx="404.6" cy="327.6" r="1.8"/>
<circle cx="400.6" cy="328.9" r="1.8"/>
<circle cx="400.2" cy="330.5" r="1.8"/>
<circle cx="423.7" cy="326.6" r="1.8"/>
<circle cx="416.4" cy="335.4" r="1.8"/>
<line class="dg" x1="371.43" y1="335.53" x2="449.97" y2="262.07"/>
<rect class="sp" x="367.50" y="258.40" width="86.40" height="80.80"/>
<line class="tk" x1="399.50" y1="339.20" x2="399.50" y2="341.28"/>
<text x="399.50" y="348.70" font-size="6.70" text-anchor="middle" textLength="3.77" lengthAdjust="spacingAndGlyphs" class="k">0</text>
<line class="tk" x1="436.50" y1="339.20" x2="436.50" y2="341.28"/>
<text x="436.50" y="348.70" font-size="6.70" text-anchor="middle" textLength="3.77" lengthAdjust="spacingAndGlyphs" class="k">2</text>
<line class="tk" x1="365.42" y1="327.50" x2="367.50" y2="327.50"/>
<text x="363.34" y="330.10" font-size="6.70" text-anchor="end" textLength="8.74" lengthAdjust="spacingAndGlyphs" class="k">−1</text>
<line class="tk" x1="365.42" y1="309.50" x2="367.50" y2="309.50"/>
<text x="363.34" y="312.10" font-size="6.70" text-anchor="end" textLength="3.77" lengthAdjust="spacingAndGlyphs" class="k">0</text>
<line class="tk" x1="365.42" y1="291.50" x2="367.50" y2="291.50"/>
<text x="363.34" y="294.10" font-size="6.70" text-anchor="end" textLength="3.77" lengthAdjust="spacingAndGlyphs" class="k">1</text>
<line class="tk" x1="365.42" y1="274.50" x2="367.50" y2="274.50"/>
<text x="363.34" y="277.10" font-size="6.70" text-anchor="end" textLength="3.77" lengthAdjust="spacingAndGlyphs" class="k">2</text>
<text x="410.70" y="248.30" font-size="6.35" text-anchor="middle" textLength="54.99" lengthAdjust="spacingAndGlyphs">Rb85_leaf (Russia)</text>
<text x="410.70" y="254.50" font-size="6.35" text-anchor="middle" textLength="24.39" lengthAdjust="spacingAndGlyphs">r=0.468</text>
<text x="410.70" y="356.60" font-size="5.71" text-anchor="middle" textLength="26.50" lengthAdjust="spacingAndGlyphs" class="l">Prediction</text>
<text x="0.00" y="0.00" font-size="5.71" text-anchor="middle" textLength="14.41" lengthAdjust="spacingAndGlyphs" class="l" transform="translate(350.84 299.30) rotate(-90)">Label</text>
<line class="gr" x1="496.50" y1="258.40" x2="496.50" y2="339.20"/>
<line class="gr" x1="521.50" y1="258.40" x2="521.50" y2="339.20"/>
<line class="gr" x1="546.50" y1="258.40" x2="546.50" y2="339.20"/>
<line class="gr" x1="482.50" y1="325.50" x2="568.90" y2="325.50"/>
<line class="gr" x1="482.50" y1="302.50" x2="568.90" y2="302.50"/>
<line class="gr" x1="482.50" y1="279.50" x2="568.90" y2="279.50"/>
<circle cx="526.3" cy="262.0" r="1.8"/>
<circle cx="532.4" cy="276.8" r="1.8"/>
<circle cx="528.4" cy="279.9" r="1.8"/>
<circle cx="520.0" cy="281.8" r="1.8"/>
<circle cx="508.2" cy="286.6" r="1.8"/>
<circle cx="519.6" cy="287.6" r="1.8"/>
<circle cx="524.3" cy="286.2" r="1.8"/>
<circle cx="530.4" cy="286.9" r="1.8"/>
<circle cx="534.4" cy="287.2" r="1.8"/>
<circle cx="504.2" cy="292.5" r="1.8"/>
<circle cx="506.9" cy="294.3" r="1.8"/>
<circle cx="509.5" cy="294.9" r="1.8"/>
<circle cx="512.9" cy="290.9" r="1.8"/>
<circle cx="514.2" cy="292.3" r="1.8"/>
<circle cx="516.3" cy="293.6" r="1.8"/>
<circle cx="518.9" cy="291.6" r="1.8"/>
<circle cx="521.6" cy="289.6" r="1.8"/>
<circle cx="524.3" cy="290.2" r="1.8"/>
<circle cx="527.0" cy="291.6" r="1.8"/>
<circle cx="529.0" cy="292.9" r="1.8"/>
<circle cx="531.7" cy="293.6" r="1.8"/>
<circle cx="512.2" cy="296.3" r="1.8"/>
<circle cx="514.9" cy="295.6" r="1.8"/>
<circle cx="517.6" cy="296.3" r="1.8"/>
<circle cx="520.3" cy="294.9" r="1.8"/>
<circle cx="523.0" cy="296.3" r="1.8"/>
<circle cx="525.7" cy="297.6" r="1.8"/>
<circle cx="528.4" cy="296.3" r="1.8"/>
<circle cx="531.0" cy="297.6" r="1.8"/>
<circle cx="506.2" cy="300.1" r="1.8"/>
<circle cx="510.2" cy="299.6" r="1.8"/>
<circle cx="513.6" cy="299.0" r="1.8"/>
<circle cx="516.3" cy="299.6" r="1.8"/>
<circle cx="518.9" cy="299.0" r="1.8"/>
<circle cx="521.6" cy="300.3" r="1.8"/>
<circle cx="524.3" cy="299.0" r="1.8"/>
<circle cx="528.4" cy="299.6" r="1.8"/>
<circle cx="532.4" cy="300.3" r="1.8"/>
<circle cx="534.4" cy="301.0" r="1.8"/>
<circle cx="502.2" cy="301.7" r="1.8"/>
<circle cx="512.2" cy="302.3" r="1.8"/>
<circle cx="516.3" cy="302.3" r="1.8"/>
<circle cx="520.3" cy="302.3" r="1.8"/>
<circle cx="525.7" cy="302.3" r="1.8"/>
<circle cx="529.7" cy="302.3" r="1.8"/>
<circle cx="526.3" cy="300.0" r="1.8"/>
<circle cx="503.5" cy="305.4" r="1.8"/>
<circle cx="506.9" cy="304.1" r="1.8"/>
<circle cx="510.2" cy="303.4" r="1.8"/>
<circle cx="520.3" cy="304.7" r="1.8"/>
<circle cx="523.6" cy="304.1" r="1.8"/>
<circle cx="527.0" cy="303.4" r="1.8"/>
<circle cx="530.4" cy="304.7" r="1.8"/>
<circle cx="533.1" cy="304.7" r="1.8"/>
<circle cx="504.8" cy="309.4" r="1.8"/>
<circle cx="508.2" cy="308.1" r="1.8"/>
<circle cx="511.6" cy="307.4" r="1.8"/>
<circle cx="514.9" cy="306.8" r="1.8"/>
<circle cx="518.3" cy="307.4" r="1.8"/>
<circle cx="521.6" cy="308.8" r="1.8"/>
<circle cx="525.0" cy="308.1" r="1.8"/>
<circle cx="527.7" cy="308.8" r="1.8"/>
<circle cx="500.1" cy="314.8" r="1.8"/>
<circle cx="503.5" cy="313.5" r="1.8"/>
<circle cx="506.9" cy="312.8" r="1.8"/>
<circle cx="510.2" cy="311.5" r="1.8"/>
<circle cx="513.6" cy="312.1" r="1.8"/>
<circle cx="516.9" cy="310.8" r="1.8"/>
<circle cx="520.3" cy="312.1" r="1.8"/>
<circle cx="523.6" cy="312.8" r="1.8"/>
<circle cx="526.3" cy="313.9" r="1.8"/>
<circle cx="535.7" cy="314.1" r="1.8"/>
<circle cx="502.2" cy="318.8" r="1.8"/>
<circle cx="505.5" cy="318.2" r="1.8"/>
<circle cx="508.9" cy="317.5" r="1.8"/>
<circle cx="512.2" cy="316.8" r="1.8"/>
<circle cx="515.6" cy="316.2" r="1.8"/>
<circle cx="518.9" cy="315.5" r="1.8"/>
<circle cx="521.6" cy="317.5" r="1.8"/>
<circle cx="525.0" cy="318.2" r="1.8"/>
<circle cx="500.1" cy="322.2" r="1.8"/>
<circle cx="503.5" cy="321.5" r="1.8"/>
<circle cx="506.9" cy="320.9" r="1.8"/>
<circle cx="510.2" cy="320.2" r="1.8"/>
<circle cx="513.6" cy="319.5" r="1.8"/>
<circle cx="517.6" cy="320.2" r="1.8"/>
<circle cx="520.3" cy="322.2" r="1.8"/>
<circle cx="502.8" cy="325.6" r="1.8"/>
<circle cx="506.2" cy="324.9" r="1.8"/>
<circle cx="516.3" cy="324.6" r="1.8"/>
<circle cx="523.6" cy="326.0" r="1.8"/>
<circle cx="506.9" cy="328.2" r="1.8"/>
<circle cx="514.2" cy="330.3" r="1.8"/>
<circle cx="518.9" cy="330.5" r="1.8"/>
<circle cx="521.6" cy="330.7" r="1.8"/>
<circle cx="498.8" cy="331.9" r="1.8"/>
<circle cx="504.2" cy="332.9" r="1.8"/>
<circle cx="507.5" cy="333.6" r="1.8"/>
<circle cx="513.3" cy="332.9" r="1.8"/>
<circle cx="502.2" cy="335.6" r="1.8"/>
<circle cx="510.9" cy="322.9" r="1.8"/>
<circle cx="508.2" cy="323.5" r="1.8"/>
<circle cx="511.0" cy="314.7" r="1.8"/>
<circle cx="519.8" cy="299.9" r="1.8"/>
<circle cx="512.1" cy="300.4" r="1.8"/>
<circle cx="515.5" cy="305.5" r="1.8"/>
<circle cx="521.9" cy="299.9" r="1.8"/>
<circle cx="514.8" cy="303.3" r="1.8"/>
<circle cx="515.1" cy="310.0" r="1.8"/>
<circle cx="514.3" cy="292.4" r="1.8"/>
<circle cx="517.0" cy="326.8" r="1.8"/>
<circle cx="526.5" cy="297.0" r="1.8"/>
<circle cx="517.7" cy="301.7" r="1.8"/>
<circle cx="511.7" cy="304.1" r="1.8"/>
<circle cx="519.4" cy="300.8" r="1.8"/>
<circle cx="509.2" cy="315.2" r="1.8"/>
<circle cx="513.4" cy="306.6" r="1.8"/>
<circle cx="529.7" cy="296.0" r="1.8"/>
<circle cx="509.4" cy="325.2" r="1.8"/>
<circle cx="527.7" cy="301.8" r="1.8"/>
<circle cx="512.3" cy="295.0" r="1.8"/>
<circle cx="521.6" cy="299.8" r="1.8"/>
<circle cx="525.4" cy="297.2" r="1.8"/>
<circle cx="521.2" cy="318.7" r="1.8"/>
<circle cx="519.1" cy="314.9" r="1.8"/>
<circle cx="517.4" cy="300.8" r="1.8"/>
<circle cx="506.6" cy="316.3" r="1.8"/>
<circle cx="514.3" cy="309.9" r="1.8"/>
<circle cx="524.6" cy="310.3" r="1.8"/>
<circle cx="524.9" cy="305.3" r="1.8"/>
<circle cx="512.3" cy="310.8" r="1.8"/>
<circle cx="525.8" cy="301.8" r="1.8"/>
<circle cx="518.7" cy="299.6" r="1.8"/>
<circle cx="522.4" cy="315.7" r="1.8"/>
<circle cx="514.1" cy="308.1" r="1.8"/>
<circle cx="523.9" cy="295.7" r="1.8"/>
<circle cx="519.7" cy="310.9" r="1.8"/>
<circle cx="523.2" cy="309.5" r="1.8"/>
<circle cx="514.1" cy="303.6" r="1.8"/>
<circle cx="532.2" cy="293.2" r="1.8"/>
<circle cx="518.1" cy="303.8" r="1.8"/>
<circle cx="510.9" cy="311.6" r="1.8"/>
<circle cx="517.5" cy="314.8" r="1.8"/>
<circle cx="520.9" cy="296.8" r="1.8"/>
<circle cx="518.0" cy="308.9" r="1.8"/>
<circle cx="520.4" cy="306.4" r="1.8"/>
<circle cx="521.6" cy="303.0" r="1.8"/>
<circle cx="514.5" cy="314.0" r="1.8"/>
<circle cx="512.3" cy="315.4" r="1.8"/>
<circle cx="512.4" cy="315.1" r="1.8"/>
<circle cx="508.6" cy="317.3" r="1.8"/>
<circle cx="513.1" cy="319.8" r="1.8"/>
<circle cx="522.5" cy="304.2" r="1.8"/>
<circle cx="511.9" cy="315.5" r="1.8"/>
<circle cx="512.1" cy="317.2" r="1.8"/>
<circle cx="518.0" cy="307.4" r="1.8"/>
<circle cx="508.0" cy="314.2" r="1.8"/>
<circle cx="504.8" cy="315.1" r="1.8"/>
<circle cx="509.4" cy="317.9" r="1.8"/>
<circle cx="517.3" cy="304.4" r="1.8"/>
<circle cx="514.7" cy="313.0" r="1.8"/>
<circle cx="514.7" cy="307.2" r="1.8"/>
<line class="dg" x1="486.43" y1="335.53" x2="564.97" y2="262.07"/>
<rect class="sp" x="482.50" y="258.40" width="86.40" height="80.80"/>
<line class="tk" x1="496.50" y1="339.20" x2="496.50" y2="341.28"/>
<text x="496.50" y="348.70" font-size="6.70" text-anchor="middle" textLength="8.74" lengthAdjust="spacingAndGlyphs" class="k">−2</text>
<line class="tk" x1="521.50" y1="339.20" x2="521.50" y2="341.28"/>
<text x="521.50" y="348.70" font-size="6.70" text-anchor="middle" textLength="3.77" lengthAdjust="spacingAndGlyphs" class="k">0</text>
<line class="tk" x1="546.50" y1="339.20" x2="546.50" y2="341.28"/>
<text x="546.50" y="348.70" font-size="6.70" text-anchor="middle" textLength="3.77" lengthAdjust="spacingAndGlyphs" class="k">2</text>
<line class="tk" x1="480.42" y1="325.50" x2="482.50" y2="325.50"/>
<text x="478.34" y="328.10" font-size="6.70" text-anchor="end" textLength="8.74" lengthAdjust="spacingAndGlyphs" class="k">−2</text>
<line class="tk" x1="480.42" y1="302.50" x2="482.50" y2="302.50"/>
<text x="478.34" y="305.10" font-size="6.70" text-anchor="end" textLength="3.77" lengthAdjust="spacingAndGlyphs" class="k">0</text>
<line class="tk" x1="480.42" y1="279.50" x2="482.50" y2="279.50"/>
<text x="478.34" y="282.10" font-size="6.70" text-anchor="end" textLength="3.77" lengthAdjust="spacingAndGlyphs" class="k">2</text>
<text x="525.70" y="248.30" font-size="6.35" text-anchor="middle" textLength="55.23" lengthAdjust="spacingAndGlyphs">S34_leaf (Sweden)</text>
<text x="525.70" y="254.50" font-size="6.35" text-anchor="middle" textLength="24.39" lengthAdjust="spacingAndGlyphs">r=0.464</text>
<text x="525.70" y="356.60" font-size="5.71" text-anchor="middle" textLength="26.50" lengthAdjust="spacingAndGlyphs" class="l">Prediction</text>
<text x="0.00" y="0.00" font-size="5.71" text-anchor="middle" textLength="14.41" lengthAdjust="spacingAndGlyphs" class="l" transform="translate(465.84 299.30) rotate(-90)">Label</text>
<line class="gr" x1="614.50" y1="258.40" x2="614.50" y2="339.20"/>
<line class="gr" x1="638.50" y1="258.40" x2="638.50" y2="339.20"/>
<line class="gr" x1="663.50" y1="258.40" x2="663.50" y2="339.20"/>
<line class="gr" x1="597.50" y1="337.50" x2="683.90" y2="337.50"/>
<line class="gr" x1="597.50" y1="318.50" x2="683.90" y2="318.50"/>
<line class="gr" x1="597.50" y1="300.50" x2="683.90" y2="300.50"/>
<line class="gr" x1="597.50" y1="282.50" x2="683.90" y2="282.50"/>
<line class="gr" x1="597.50" y1="263.50" x2="683.90" y2="263.50"/>
<circle cx="653.2" cy="262.0" r="1.8"/>
<circle cx="637.6" cy="266.5" r="1.8"/>
<circle cx="639.6" cy="265.7" r="1.8"/>
<circle cx="646.5" cy="271.8" r="1.8"/>
<circle cx="634.9" cy="274.5" r="1.8"/>
<circle cx="635.7" cy="276.8" r="1.8"/>
<circle cx="645.4" cy="275.5" r="1.8"/>
<circle cx="650.8" cy="274.5" r="1.8"/>
<circle cx="651.0" cy="276.4" r="1.8"/>
<circle cx="639.7" cy="278.8" r="1.8"/>
<circle cx="648.1" cy="280.6" r="1.8"/>
<circle cx="653.4" cy="279.9" r="1.8"/>
<circle cx="636.6" cy="285.3" r="1.8"/>
<circle cx="640.0" cy="283.5" r="1.8"/>
<circle cx="643.4" cy="282.9" r="1.8"/>
<circle cx="646.7" cy="282.2" r="1.8"/>
<circle cx="650.1" cy="282.9" r="1.8"/>
<circle cx="652.8" cy="284.9" r="1.8"/>
<circle cx="658.8" cy="284.9" r="1.8"/>
<circle cx="631.9" cy="288.9" r="1.8"/>
<circle cx="634.6" cy="288.2" r="1.8"/>
<circle cx="637.3" cy="287.6" r="1.8"/>
<circle cx="640.7" cy="286.9" r="1.8"/>
<circle cx="644.0" cy="286.2" r="1.8"/>
<circle cx="647.4" cy="286.2" r="1.8"/>
<circle cx="650.8" cy="287.6" r="1.8"/>
<circle cx="654.1" cy="288.2" r="1.8"/>
<circle cx="633.3" cy="291.6" r="1.8"/>
<circle cx="636.0" cy="290.9" r="1.8"/>
<circle cx="639.3" cy="290.2" r="1.8"/>
<circle cx="642.0" cy="290.9" r="1.8"/>
<circle cx="645.4" cy="290.2" r="1.8"/>
<circle cx="648.7" cy="290.2" r="1.8"/>
<circle cx="652.1" cy="290.9" r="1.8"/>
<circle cx="632.6" cy="294.3" r="1.8"/>
<circle cx="635.3" cy="294.9" r="1.8"/>
<circle cx="638.7" cy="293.6" r="1.8"/>
<circle cx="641.4" cy="294.3" r="1.8"/>
<circle cx="644.7" cy="293.6" r="1.8"/>
<circle cx="648.1" cy="294.3" r="1.8"/>
<circle cx="651.4" cy="294.9" r="1.8"/>
<circle cx="634.6" cy="297.6" r="1.8"/>
<circle cx="637.3" cy="297.0" r="1.8"/>
<circle cx="640.7" cy="297.6" r="1.8"/>
<circle cx="643.4" cy="297.0" r="1.8"/>
<circle cx="646.7" cy="297.0" r="1.8"/>
<circle cx="650.1" cy="297.6" r="1.8"/>
<circle cx="652.8" cy="296.3" r="1.8"/>
<circle cx="633.3" cy="300.3" r="1.8"/>
<circle cx="636.0" cy="301.0" r="1.8"/>
<circle cx="639.3" cy="300.3" r="1.8"/>
<circle cx="642.7" cy="301.0" r="1.8"/>
<circle cx="646.1" cy="300.3" r="1.8"/>
<circle cx="649.4" cy="301.0" r="1.8"/>
<circle cx="652.1" cy="302.3" r="1.8"/>
<circle cx="630.6" cy="303.0" r="1.8"/>
<circle cx="634.6" cy="303.0" r="1.8"/>
<circle cx="638.0" cy="303.0" r="1.8"/>
<circle cx="642.0" cy="303.0" r="1.8"/>
<circle cx="645.4" cy="303.0" r="1.8"/>
<circle cx="648.7" cy="303.0" r="1.8"/>
<circle cx="631.9" cy="301.4" r="1.8"/>
<circle cx="634.0" cy="304.7" r="1.8"/>
<circle cx="636.6" cy="304.1" r="1.8"/>
<circle cx="640.0" cy="304.5" r="1.8"/>
<circle cx="643.4" cy="304.1" r="1.8"/>
<circle cx="646.7" cy="304.7" r="1.8"/>
<circle cx="649.4" cy="305.4" r="1.8"/>
<circle cx="632.6" cy="307.4" r="1.8"/>
<circle cx="635.3" cy="308.1" r="1.8"/>
<circle cx="638.7" cy="307.4" r="1.8"/>
<circle cx="642.0" cy="307.4" r="1.8"/>
<circle cx="644.7" cy="308.1" r="1.8"/>
<circle cx="647.4" cy="308.8" r="1.8"/>
<circle cx="633.3" cy="310.8" r="1.8"/>
<circle cx="636.6" cy="310.8" r="1.8"/>
<circle cx="639.3" cy="311.5" r="1.8"/>
<circle cx="642.7" cy="310.8" r="1.8"/>
<circle cx="646.1" cy="310.8" r="1.8"/>
<circle cx="634.6" cy="313.5" r="1.8"/>
<circle cx="638.0" cy="314.1" r="1.8"/>
<circle cx="640.7" cy="313.5" r="1.8"/>
<circle cx="619.9" cy="311.5" r="1.8"/>
<circle cx="622.5" cy="309.4" r="1.8"/>
<circle cx="623.9" cy="310.8" r="1.8"/>
<circle cx="626.6" cy="310.8" r="1.8"/>
<circle cx="629.3" cy="308.8" r="1.8"/>
<circle cx="626.3" cy="319.2" r="1.8"/>
<circle cx="645.8" cy="322.2" r="1.8"/>
<circle cx="628.6" cy="326.2" r="1.8"/>
<circle cx="629.5" cy="335.4" r="1.8"/>
<circle cx="633.3" cy="296.0" r="1.8"/>
<circle cx="631.9" cy="298.7" r="1.8"/>
<circle cx="637.3" cy="299.4" r="1.8"/>
<circle cx="641.4" cy="299.4" r="1.8"/>
<circle cx="649.5" cy="292.7" r="1.8"/>
<circle cx="643.9" cy="299.4" r="1.8"/>
<circle cx="639.8" cy="305.5" r="1.8"/>
<circle cx="640.3" cy="305.1" r="1.8"/>
<circle cx="645.4" cy="297.5" r="1.8"/>
<circle cx="637.5" cy="297.5" r="1.8"/>
<circle cx="633.0" cy="300.5" r="1.8"/>
<circle cx="637.2" cy="280.8" r="1.8"/>
<circle cx="645.6" cy="296.3" r="1.8"/>
<circle cx="635.7" cy="295.4" r="1.8"/>
<circle cx="649.6" cy="294.1" r="1.8"/>
<circle cx="638.6" cy="283.5" r="1.8"/>
<circle cx="646.2" cy="295.6" r="1.8"/>
<circle cx="648.5" cy="274.0" r="1.8"/>
<circle cx="650.0" cy="295.6" r="1.8"/>
<circle cx="637.7" cy="306.2" r="1.8"/>
<circle cx="636.5" cy="310.6" r="1.8"/>
<circle cx="638.2" cy="301.0" r="1.8"/>
<circle cx="647.3" cy="290.0" r="1.8"/>
<circle cx="641.9" cy="291.7" r="1.8"/>
<circle cx="634.8" cy="299.0" r="1.8"/>
<circle cx="645.5" cy="293.8" r="1.8"/>
<circle cx="636.5" cy="298.2" r="1.8"/>
<circle cx="642.9" cy="304.5" r="1.8"/>
<circle cx="649.0" cy="287.0" r="1.8"/>
<circle cx="636.7" cy="303.7" r="1.8"/>
<circle cx="647.0" cy="305.8" r="1.8"/>
<circle cx="638.0" cy="290.0" r="1.8"/>
<circle cx="644.4" cy="292.5" r="1.8"/>
<circle cx="644.0" cy="294.5" r="1.8"/>
<circle cx="635.7" cy="300.8" r="1.8"/>
<circle cx="653.1" cy="293.5" r="1.8"/>
<circle cx="633.4" cy="304.3" r="1.8"/>
<circle cx="637.0" cy="289.2" r="1.8"/>
<circle cx="633.6" cy="318.5" r="1.8"/>
<circle cx="649.5" cy="289.1" r="1.8"/>
<circle cx="640.3" cy="288.1" r="1.8"/>
<circle cx="639.9" cy="293.2" r="1.8"/>
<circle cx="642.4" cy="302.1" r="1.8"/>
<circle cx="643.7" cy="307.2" r="1.8"/>
<circle cx="646.5" cy="292.3" r="1.8"/>
<circle cx="639.8" cy="291.2" r="1.8"/>
<circle cx="657.5" cy="280.5" r="1.8"/>
<circle cx="641.4" cy="297.4" r="1.8"/>
<circle cx="639.8" cy="299.8" r="1.8"/>
<circle cx="650.3" cy="290.8" r="1.8"/>
<circle cx="636.7" cy="299.9" r="1.8"/>
<circle cx="638.7" cy="306.2" r="1.8"/>
<circle cx="641.6" cy="299.8" r="1.8"/>
<circle cx="634.5" cy="292.3" r="1.8"/>
<circle cx="642.3" cy="303.9" r="1.8"/>
<circle cx="636.8" cy="302.2" r="1.8"/>
<circle cx="643.0" cy="311.6" r="1.8"/>
<circle cx="641.5" cy="291.8" r="1.8"/>
<circle cx="651.0" cy="291.2" r="1.8"/>
<circle cx="643.4" cy="282.8" r="1.8"/>
<circle cx="643.3" cy="297.2" r="1.8"/>
<circle cx="634.9" cy="284.7" r="1.8"/>
<circle cx="634.6" cy="293.3" r="1.8"/>
<circle cx="643.6" cy="286.0" r="1.8"/>
<circle cx="642.0" cy="289.9" r="1.8"/>
<circle cx="649.8" cy="283.3" r="1.8"/>
<circle cx="632.9" cy="298.5" r="1.8"/>
<circle cx="646.1" cy="292.1" r="1.8"/>
<circle cx="640.4" cy="298.3" r="1.8"/>
<circle cx="646.2" cy="302.7" r="1.8"/>
<circle cx="642.3" cy="283.3" r="1.8"/>
<circle cx="643.1" cy="303.4" r="1.8"/>
<circle cx="637.8" cy="309.1" r="1.8"/>
<circle cx="642.3" cy="294.8" r="1.8"/>
<circle cx="641.7" cy="281.9" r="1.8"/>
<circle cx="644.6" cy="290.3" r="1.8"/>
<circle cx="645.0" cy="297.7" r="1.8"/>
<circle cx="644.8" cy="294.3" r="1.8"/>
<circle cx="636.5" cy="298.7" r="1.8"/>
<circle cx="650.8" cy="285.3" r="1.8"/>
<circle cx="639.8" cy="292.0" r="1.8"/>
<circle cx="636.8" cy="287.4" r="1.8"/>
<circle cx="640.7" cy="299.3" r="1.8"/>
<circle cx="631.7" cy="297.8" r="1.8"/>
<circle cx="638.6" cy="279.0" r="1.8"/>
<circle cx="655.9" cy="287.3" r="1.8"/>
<circle cx="646.2" cy="290.2" r="1.8"/>
<circle cx="637.4" cy="306.8" r="1.8"/>
<circle cx="635.5" cy="312.9" r="1.8"/>
<circle cx="633.6" cy="291.1" r="1.8"/>
<circle cx="636.4" cy="298.7" r="1.8"/>
<circle cx="646.0" cy="284.6" r="1.8"/>
<circle cx="642.1" cy="290.8" r="1.8"/>
<circle cx="642.4" cy="294.5" r="1.8"/>
<circle cx="639.3" cy="298.6" r="1.8"/>
<circle cx="645.3" cy="292.9" r="1.8"/>
<circle cx="638.6" cy="296.7" r="1.8"/>
<circle cx="639.6" cy="290.0" r="1.8"/>
<circle cx="640.0" cy="307.6" r="1.8"/>
<circle cx="638.5" cy="305.4" r="1.8"/>
<circle cx="636.9" cy="292.8" r="1.8"/>
<circle cx="641.8" cy="298.7" r="1.8"/>
<circle cx="644.3" cy="297.4" r="1.8"/>
<circle cx="637.1" cy="283.8" r="1.8"/>
<circle cx="645.3" cy="307.4" r="1.8"/>
<circle cx="647.4" cy="285.9" r="1.8"/>
<circle cx="647.1" cy="286.3" r="1.8"/>
<circle cx="633.8" cy="305.9" r="1.8"/>
<circle cx="637.6" cy="296.5" r="1.8"/>
<circle cx="644.1" cy="294.3" r="1.8"/>
<circle cx="638.3" cy="290.6" r="1.8"/>
<circle cx="644.2" cy="285.8" r="1.8"/>
<circle cx="642.4" cy="297.3" r="1.8"/>
<circle cx="638.9" cy="284.3" r="1.8"/>
<circle cx="646.2" cy="307.1" r="1.8"/>
<circle cx="644.7" cy="297.6" r="1.8"/>
<circle cx="638.9" cy="296.3" r="1.8"/>
<circle cx="648.3" cy="286.3" r="1.8"/>
<circle cx="639.2" cy="310.0" r="1.8"/>
<circle cx="638.7" cy="290.5" r="1.8"/>
<circle cx="644.4" cy="295.1" r="1.8"/>
<circle cx="639.2" cy="291.8" r="1.8"/>
<circle cx="649.2" cy="295.4" r="1.8"/>
<circle cx="640.7" cy="294.8" r="1.8"/>
<circle cx="634.5" cy="312.9" r="1.8"/>
<circle cx="648.5" cy="290.7" r="1.8"/>
<circle cx="643.8" cy="308.7" r="1.8"/>
<circle cx="646.2" cy="291.4" r="1.8"/>
<circle cx="644.2" cy="297.7" r="1.8"/>
<circle cx="640.9" cy="296.6" r="1.8"/>
<circle cx="649.3" cy="288.0" r="1.8"/>
<circle cx="652.9" cy="290.0" r="1.8"/>
<circle cx="642.3" cy="308.1" r="1.8"/>
<circle cx="638.8" cy="301.8" r="1.8"/>
<line class="dg" x1="601.43" y1="335.53" x2="679.97" y2="262.07"/>
<rect class="sp" x="597.50" y="258.40" width="86.40" height="80.80"/>
<line class="tk" x1="614.50" y1="339.20" x2="614.50" y2="341.28"/>
<text x="614.50" y="348.70" font-size="6.70" text-anchor="middle" textLength="14.40" lengthAdjust="spacingAndGlyphs" class="k">−2.5</text>
<line class="tk" x1="638.50" y1="339.20" x2="638.50" y2="341.28"/>
<text x="638.50" y="348.70" font-size="6.70" text-anchor="middle" textLength="9.43" lengthAdjust="spacingAndGlyphs" class="k">0.0</text>
<line class="tk" x1="663.50" y1="339.20" x2="663.50" y2="341.28"/>
<text x="663.50" y="348.70" font-size="6.70" text-anchor="middle" textLength="9.43" lengthAdjust="spacingAndGlyphs" class="k">2.5</text>
<line class="tk" x1="595.42" y1="337.50" x2="597.50" y2="337.50"/>
<text x="593.34" y="340.10" font-size="6.70" text-anchor="end" textLength="8.74" lengthAdjust="spacingAndGlyphs" class="k">−4</text>
<line class="tk" x1="595.42" y1="318.50" x2="597.50" y2="318.50"/>
<text x="593.34" y="321.10" font-size="6.70" text-anchor="end" textLength="8.74" lengthAdjust="spacingAndGlyphs" class="k">−2</text>
<line class="tk" x1="595.42" y1="300.50" x2="597.50" y2="300.50"/>
<text x="593.34" y="303.10" font-size="6.70" text-anchor="end" textLength="3.77" lengthAdjust="spacingAndGlyphs" class="k">0</text>
<line class="tk" x1="595.42" y1="282.50" x2="597.50" y2="282.50"/>
<text x="593.34" y="285.10" font-size="6.70" text-anchor="end" textLength="3.77" lengthAdjust="spacingAndGlyphs" class="k">2</text>
<line class="tk" x1="595.42" y1="263.50" x2="597.50" y2="263.50"/>
<text x="593.34" y="266.10" font-size="6.70" text-anchor="end" textLength="3.77" lengthAdjust="spacingAndGlyphs" class="k">4</text>
<text x="640.70" y="248.30" font-size="6.35" text-anchor="middle" textLength="62.38" lengthAdjust="spacingAndGlyphs">Ca43_seed (Sweden)</text>
<text x="640.70" y="254.50" font-size="6.35" text-anchor="middle" textLength="24.39" lengthAdjust="spacingAndGlyphs">r=0.452</text>
<text x="640.70" y="356.60" font-size="5.71" text-anchor="middle" textLength="26.50" lengthAdjust="spacingAndGlyphs" class="l">Prediction</text>
<text x="0.00" y="0.00" font-size="5.71" text-anchor="middle" textLength="14.41" lengthAdjust="spacingAndGlyphs" class="l" transform="translate(580.84 299.30) rotate(-90)">Label</text>
</svg>
</body></html>
